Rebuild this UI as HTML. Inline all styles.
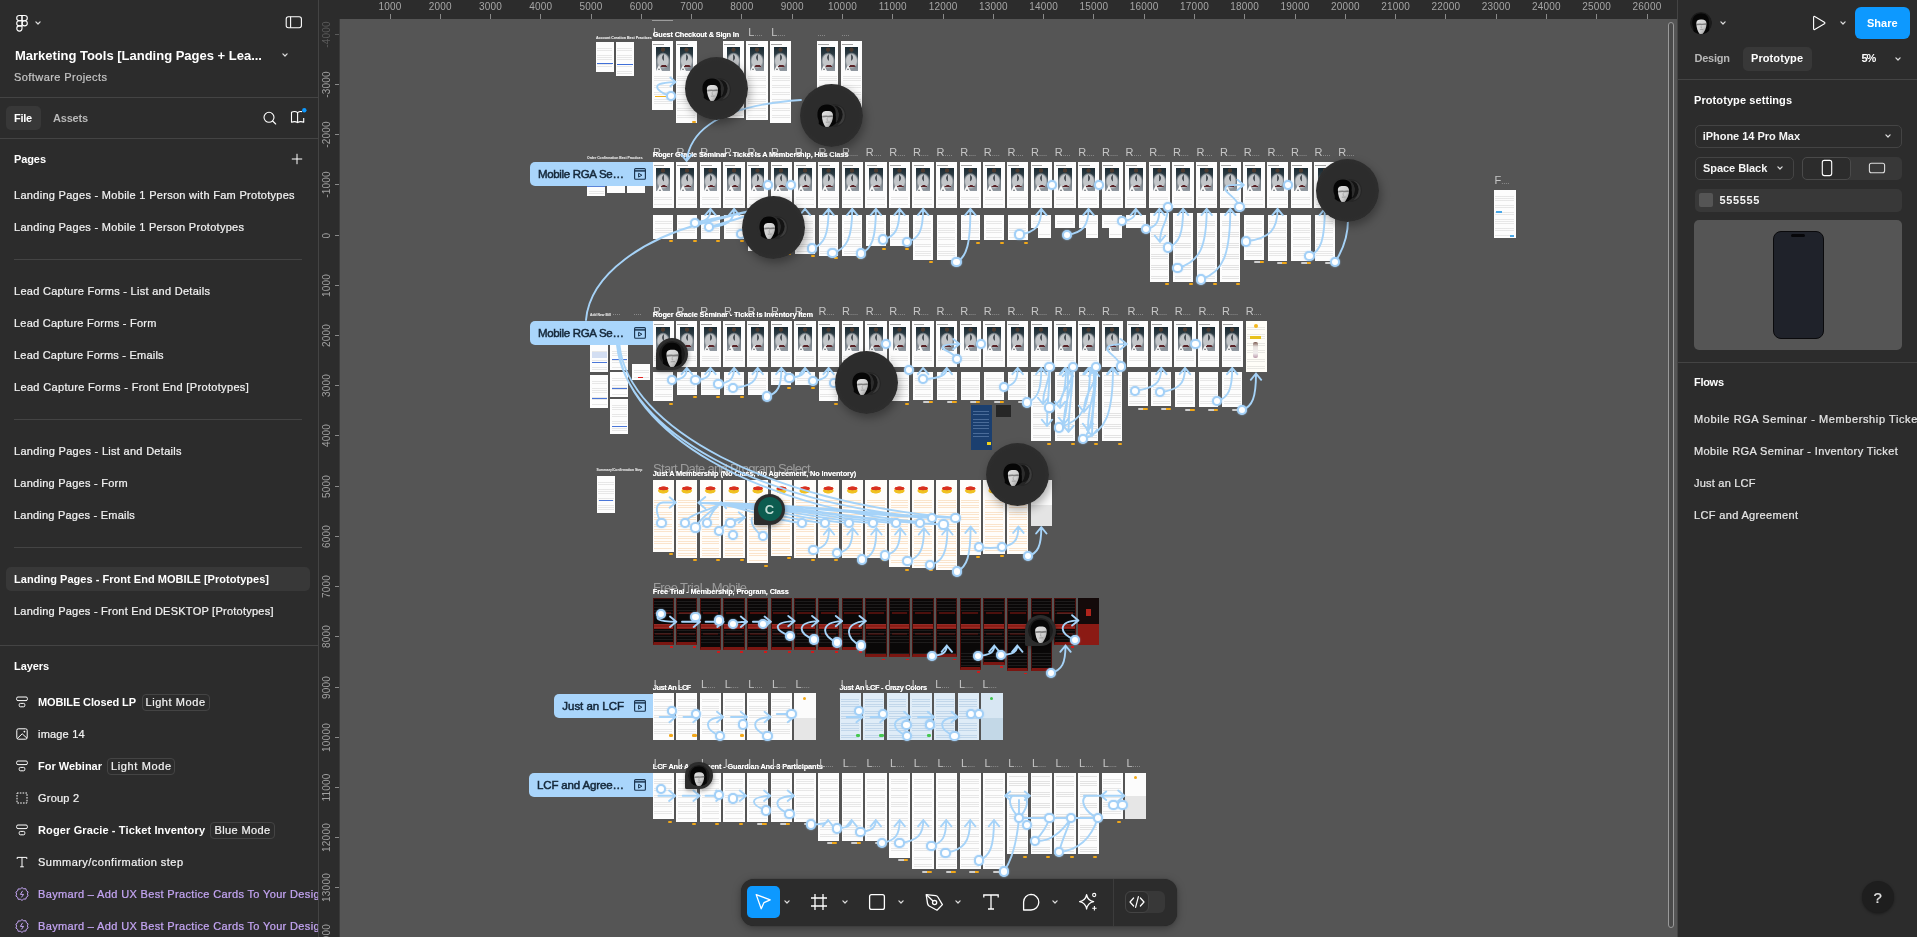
<!DOCTYPE html>
<html><head><meta charset="utf-8"><title>Figma</title>
<style>
html,body{margin:0;padding:0;background:#555;}
body{width:1917px;height:937px;overflow:hidden;position:relative;font-family:"Liberation Sans",sans-serif;}
.a{position:absolute;}
.t{position:absolute;white-space:nowrap;}
.f{position:absolute;background:#fff;}
svg{overflow:visible}
</style></head><body>
<svg width="0" height="0" style="position:absolute"><defs><linearGradient id="fg" x1="0" y1="0" x2="1" y2="1"><stop offset="0" stop-color="#e2e2e2"/><stop offset=".6" stop-color="#cdcdcd"/><stop offset="1" stop-color="#8c8c8c"/></linearGradient></defs></svg>

<div id="root" style="position:absolute;left:0;top:0;width:1917px;height:937px;will-change:transform;overflow:hidden">
<div class="a" style="left:0;top:0;width:1677px;height:937px;background:#555;overflow:hidden">
<style>
.f{position:absolute;background:#fdfdfd;overflow:hidden}
.f::after{content:"";position:absolute;left:8%;right:8%;top:2px;bottom:2px;background:repeating-linear-gradient(180deg,rgba(120,120,120,.0) 0 1.6px,rgba(120,120,120,.16) 1.6px 2.3px)}
.rg::before{content:"";position:absolute;left:3.9px;top:6px;width:13.6px;height:23.5px;z-index:2;
 background:
 radial-gradient(ellipse 3.6px 1.1px at 56% 80%,#5a2428 0 85%,rgba(90,36,40,0) 100%),
 radial-gradient(ellipse 1.1px 3.6px at 52% 44%,#4d5359 0 70%,rgba(77,83,89,0) 100%),
 radial-gradient(circle 2.4px at 50% 11%,#4b3a30 0 75%,rgba(75,58,48,0) 100%),
 radial-gradient(ellipse 6.800px 8.400px at 50% 57%,#c3c6c9 0 72%,rgba(170,175,180,.55) 88%,rgba(150,155,160,0) 100%),
 linear-gradient(180deg,#1a2a32 0%,#2b3a42 28%,#737c83 66%,#9198a0 100%)}
.rg::after{top:31px}
.tri{position:absolute;left:4.2px;top:23.6px;width:0;height:0;border-left:3.3px solid transparent;border-right:3.3px solid transparent;border-bottom:6px solid #f6f6f6;z-index:3}
.tri::after{content:"";position:absolute;left:-1.2px;top:3.4px;border-left:1.2px solid transparent;border-right:1.2px solid transparent;border-bottom:2.400px solid #6a6f74}
.rg>b{position:absolute;left:1.4px;top:3.1px;width:10.5px;height:1px;background:rgba(50,50,50,.45);z-index:3}
.dn::after{background:repeating-linear-gradient(180deg,rgba(100,100,100,0) 0 1.5px,rgba(100,100,100,.17) 1.5px 2.2px) !important}
.or{position:absolute;background:#fffdfa;overflow:hidden}
.or::before{content:"";position:absolute;left:4.5px;top:5.5px;width:12.5px;height:8px;background:radial-gradient(ellipse 5.5px 2.2px at 50% 30%,#d9301e 0 80%,rgba(217,48,30,0) 100%),radial-gradient(ellipse 5.8px 3.2px at 48% 58%,#f0c020 0 80%,rgba(240,192,32,0) 100%)}
.or::after{content:"";position:absolute;left:8%;right:8%;top:16px;bottom:2px;background:repeating-linear-gradient(180deg,rgba(235,140,40,0) 0 1.6px,rgba(235,140,40,.22) 1.6px 2.4px)}
.bk{position:absolute;background:#0a0808;overflow:hidden}
.bk::before{content:"";position:absolute;left:0.8px;right:0.8px;top:25.5px;height:5px;background:#8e1c15;box-shadow:0 -13.5px 0 -1.9px #7a1712, 0 7.5px 0 -2px #5e120e}
.bk::after{content:"";position:absolute;left:0;right:0;top:0;bottom:0;border:0.7px solid #4a0e0b;border-bottom:3.2px solid #7a1611;background:repeating-linear-gradient(180deg,rgba(200,200,200,0) 0 2.2px,rgba(200,200,200,.10) 2.2px 2.9px)}
.lb{position:absolute;background:#dfecf7;overflow:hidden}
.lb::after{content:"";position:absolute;left:8%;right:8%;top:2px;bottom:2px;background:repeating-linear-gradient(180deg,rgba(90,140,190,0) 0 1.6px,rgba(90,140,190,.22) 1.6px 2.4px)}
.n{position:absolute;width:10.4px;height:10.4px;border-radius:50%;background:#fff;border:2px solid #a3d0f7;box-shadow:0 0 1.500px rgba(163,208,247,.9);box-sizing:border-box;z-index:6}
.l{position:absolute;font-size:11px;line-height:12px;color:#c6c6c6;white-space:nowrap}
.l i{font-style:normal;font-size:7.5px;letter-spacing:-.1px;color:#b0b0b0}
.ti{position:absolute;white-space:nowrap;color:#fff;font-weight:bold;font-size:7.4px;line-height:9px;text-shadow:0 0 0.6px rgba(255,255,255,.6)}
.gt{position:absolute;white-space:nowrap;color:#9c9c9c;line-height:16px}
.big{position:absolute;border-radius:50%;background:radial-gradient(circle at 50% 50%,#2c2c2c 0 60%,#313131 85%,#383838 100%);box-shadow:2px 4px 10px rgba(0,0,0,.32);z-index:8}
.pin{position:absolute;border-radius:50% 50% 50% 6%;background:#2c2c2c;box-shadow:1px 2px 4px rgba(0,0,0,.3);z-index:8}
.fl{position:absolute;background:#a9d5fb;border-radius:5px 0 0 5px;z-index:5;height:24.2px}
</style>
<div class="ti" style="left:596px;top:35.5px;font-size:3.6px;line-height:5px;opacity:.85">Account Creation Best Practices</div>
<div class="f" style="left:595.8px;top:41.7px;width:18.0px;height:30.0px;"></div>
<div class="f" style="left:616.0px;top:41.7px;width:17.8px;height:34.1px;"></div>
<div class="a" style="left:597px;top:62.5px;width:15.5px;height:1.600px;background:#3f6fd8"></div>
<div class="a" style="left:617.3px;top:63.800px;width:15.5px;height:1.600px;background:#3f6fd8"></div>
<div class="f rg" style="left:652.1px;top:41.3px;width:21.4px;height:68.3px"><i class="tri"></i><b></b></div>
<div class="f rg" style="left:675.7px;top:41.3px;width:21.4px;height:82.2px"><i class="tri"></i><b></b></div>
<div class="f rg" style="left:722.9px;top:41.3px;width:21.4px;height:77.1px"><i class="tri"></i><b></b></div>
<div class="f rg" style="left:746.3px;top:41.3px;width:21.4px;height:78.6px"><i class="tri"></i><b></b></div>
<div class="f rg" style="left:770.0px;top:41.3px;width:21.4px;height:81.9px"><i class="tri"></i><b></b></div>
<div class="f rg" style="left:817.1px;top:41.3px;width:21.4px;height:78.7px"><i class="tri"></i><b></b></div>
<div class="f rg" style="left:841.0px;top:41.3px;width:21.4px;height:78.7px"><i class="tri"></i><b></b></div>
<div class="l" style="left:653.0px;top:26.0px">L</div>
<div class="l" style="left:748.3px;top:26.0px">L<i>....</i></div>
<div class="l" style="left:771.2px;top:26.0px">L<i>....</i></div>
<div class="l" style="left:817.5px;top:26.0px"><i>....</i></div>
<div class="l" style="left:841.5px;top:26.0px"><i>....</i></div>
<div class="ti" style="left:652.8px;top:30.0px;letter-spacing:-0.190px;font-size:7.4px;">Guest Checkout &amp; Sign In</div>
<div class="a" style="left:654.5px;top:95.600px;width:11.5px;height:1.800px;background:#f2b01a"></div>
<div class="a" style="left:691.5px;top:120.5px;width:4px;height:2px;border-radius:1px;background:#f2a818"></div>
<div class="a" style="left:652px;top:20px;width:20.500px;height:1px;background:#9c9c9c"></div>
<div class="f rg" style="left:652.5px;top:161.8px;width:21.4px;height:46.4px"><i class="tri"></i><b></b></div>
<div class="f rg" style="left:676.1px;top:161.8px;width:21.4px;height:46.4px"><i class="tri"></i><b></b></div>
<div class="f rg" style="left:699.8px;top:161.8px;width:21.4px;height:46.4px"><i class="tri"></i><b></b></div>
<div class="f rg" style="left:723.4px;top:161.8px;width:21.4px;height:46.4px"><i class="tri"></i><b></b></div>
<div class="f rg" style="left:747.0px;top:161.8px;width:21.4px;height:46.4px"><i class="tri"></i><b></b></div>
<div class="f rg" style="left:770.6px;top:161.8px;width:21.4px;height:46.4px"><i class="tri"></i><b></b></div>
<div class="f rg" style="left:794.3px;top:161.8px;width:21.4px;height:46.4px"><i class="tri"></i><b></b></div>
<div class="f rg" style="left:817.9px;top:161.8px;width:21.4px;height:46.4px"><i class="tri"></i><b></b></div>
<div class="f rg" style="left:841.5px;top:161.8px;width:21.4px;height:46.4px"><i class="tri"></i><b></b></div>
<div class="f rg" style="left:865.2px;top:161.8px;width:21.4px;height:46.4px"><i class="tri"></i><b></b></div>
<div class="f rg" style="left:888.8px;top:161.8px;width:21.4px;height:46.4px"><i class="tri"></i><b></b></div>
<div class="f rg" style="left:912.4px;top:161.8px;width:21.4px;height:46.4px"><i class="tri"></i><b></b></div>
<div class="f rg" style="left:936.1px;top:161.8px;width:21.4px;height:46.4px"><i class="tri"></i><b></b></div>
<div class="f rg" style="left:959.7px;top:161.8px;width:21.4px;height:46.4px"><i class="tri"></i><b></b></div>
<div class="f rg" style="left:983.3px;top:161.8px;width:21.4px;height:46.4px"><i class="tri"></i><b></b></div>
<div class="f rg" style="left:1007.0px;top:161.8px;width:21.4px;height:46.4px"><i class="tri"></i><b></b></div>
<div class="f rg" style="left:1030.6px;top:161.8px;width:21.4px;height:46.4px"><i class="tri"></i><b></b></div>
<div class="f rg" style="left:1054.2px;top:161.8px;width:21.4px;height:46.4px"><i class="tri"></i><b></b></div>
<div class="f rg" style="left:1077.8px;top:161.8px;width:21.4px;height:46.4px"><i class="tri"></i><b></b></div>
<div class="f rg" style="left:1101.5px;top:161.8px;width:21.4px;height:46.4px"><i class="tri"></i><b></b></div>
<div class="f rg" style="left:1125.1px;top:161.8px;width:21.4px;height:46.4px"><i class="tri"></i><b></b></div>
<div class="f rg" style="left:1148.7px;top:161.8px;width:21.4px;height:46.4px"><i class="tri"></i><b></b></div>
<div class="f rg" style="left:1172.4px;top:161.8px;width:21.4px;height:46.4px"><i class="tri"></i><b></b></div>
<div class="f rg" style="left:1196.0px;top:161.8px;width:21.4px;height:46.4px"><i class="tri"></i><b></b></div>
<div class="f rg" style="left:1219.6px;top:161.8px;width:21.4px;height:46.4px"><i class="tri"></i><b></b></div>
<div class="f rg" style="left:1243.2px;top:161.8px;width:21.4px;height:46.4px"><i class="tri"></i><b></b></div>
<div class="f rg" style="left:1266.9px;top:161.8px;width:21.4px;height:46.4px"><i class="tri"></i><b></b></div>
<div class="f rg" style="left:1290.5px;top:161.8px;width:21.4px;height:46.4px"><i class="tri"></i><b></b></div>
<div class="f rg" style="left:1314.1px;top:161.8px;width:21.4px;height:46.4px"><i class="tri"></i><b></b></div>
<div class="f rg" style="left:1337.8px;top:161.8px;width:21.4px;height:46.4px"><i class="tri"></i><b></b></div>
<div class="l" style="left:653.0px;top:146.0px">R<i>....</i></div>
<div class="l" style="left:676.6px;top:146.0px">R<i>....</i></div>
<div class="l" style="left:700.3px;top:146.0px">R<i>....</i></div>
<div class="l" style="left:723.9px;top:146.0px">R<i>....</i></div>
<div class="l" style="left:747.5px;top:146.0px">R<i>....</i></div>
<div class="l" style="left:771.1px;top:146.0px">R<i>....</i></div>
<div class="l" style="left:794.8px;top:146.0px">R<i>....</i></div>
<div class="l" style="left:818.4px;top:146.0px">R<i>....</i></div>
<div class="l" style="left:842.0px;top:146.0px">R<i>....</i></div>
<div class="l" style="left:865.7px;top:146.0px">R<i>....</i></div>
<div class="l" style="left:889.3px;top:146.0px">R<i>....</i></div>
<div class="l" style="left:912.9px;top:146.0px">R<i>....</i></div>
<div class="l" style="left:936.6px;top:146.0px">R<i>....</i></div>
<div class="l" style="left:960.2px;top:146.0px">R<i>....</i></div>
<div class="l" style="left:983.8px;top:146.0px">R<i>....</i></div>
<div class="l" style="left:1007.5px;top:146.0px">R<i>....</i></div>
<div class="l" style="left:1031.1px;top:146.0px">R<i>....</i></div>
<div class="l" style="left:1054.7px;top:146.0px">R<i>....</i></div>
<div class="l" style="left:1078.3px;top:146.0px">R<i>....</i></div>
<div class="l" style="left:1102.0px;top:146.0px">R<i>....</i></div>
<div class="l" style="left:1125.6px;top:146.0px">R<i>....</i></div>
<div class="l" style="left:1149.2px;top:146.0px">R<i>....</i></div>
<div class="l" style="left:1172.9px;top:146.0px">R<i>....</i></div>
<div class="l" style="left:1196.5px;top:146.0px">R<i>....</i></div>
<div class="l" style="left:1220.1px;top:146.0px">R<i>....</i></div>
<div class="l" style="left:1243.8px;top:146.0px">R<i>....</i></div>
<div class="l" style="left:1267.4px;top:146.0px">R<i>....</i></div>
<div class="l" style="left:1291.0px;top:146.0px">R<i>....</i></div>
<div class="l" style="left:1314.6px;top:146.0px">R<i>....</i></div>
<div class="l" style="left:1338.3px;top:146.0px">R<i>....</i></div>
<div class="ti" style="left:652.8px;top:149.5px;letter-spacing:-0.183px;font-size:7.4px;">Roger Gracie Seminar - Ticket Is A Membership, Has Class</div>
<div class="f" style="left:653.3px;top:214.8px;width:19.8px;height:23.8px;"></div>
<div class="a" style="left:669.0px;top:239.8px;width:4px;height:2px;border-radius:1px;background:#f2a818"></div>
<div class="f" style="left:676.9px;top:214.8px;width:19.8px;height:23.8px;"></div>
<div class="a" style="left:692.6px;top:239.8px;width:4px;height:2px;border-radius:1px;background:#f2a818"></div>
<div class="f" style="left:700.6px;top:214.8px;width:19.8px;height:23.8px;"></div>
<div class="a" style="left:716.3px;top:239.8px;width:4px;height:2px;border-radius:1px;background:#f2a818"></div>
<div class="f" style="left:724.2px;top:214.8px;width:19.8px;height:23.8px;"></div>
<div class="a" style="left:739.9px;top:239.8px;width:4px;height:2px;border-radius:1px;background:#f2a818"></div>
<div class="f" style="left:747.8px;top:214.8px;width:19.8px;height:36.6px;"></div>
<div class="a" style="left:763.5px;top:252.6px;width:4px;height:2px;border-radius:1px;background:#f2a818"></div>
<div class="f" style="left:771.4px;top:214.8px;width:19.8px;height:36.6px;"></div>
<div class="a" style="left:787.1px;top:252.6px;width:4px;height:2px;border-radius:1px;background:#f2a818"></div>
<div class="f" style="left:795.1px;top:214.8px;width:19.8px;height:39.2px;"></div>
<div class="a" style="left:810.8px;top:255.2px;width:4px;height:2px;border-radius:1px;background:#f2a818"></div>
<div class="f" style="left:818.7px;top:214.8px;width:19.8px;height:40.9px;"></div>
<div class="a" style="left:834.4px;top:256.9px;width:4px;height:2px;border-radius:1px;background:#f2a818"></div>
<div class="f" style="left:842.3px;top:214.8px;width:19.8px;height:40.9px;"></div>
<div class="a" style="left:858.0px;top:256.9px;width:4px;height:2px;border-radius:1px;background:#f2a818"></div>
<div class="f" style="left:866.0px;top:214.8px;width:19.8px;height:31.6px;"></div>
<div class="a" style="left:881.7px;top:247.6px;width:4px;height:2px;border-radius:1px;background:#f2a818"></div>
<div class="f" style="left:889.6px;top:214.8px;width:19.8px;height:31.6px;"></div>
<div class="a" style="left:905.3px;top:247.6px;width:4px;height:2px;border-radius:1px;background:#f2a818"></div>
<div class="f" style="left:913.2px;top:214.8px;width:19.8px;height:44.9px;"></div>
<div class="a" style="left:928.9px;top:260.9px;width:4px;height:2px;border-radius:1px;background:#f2a818"></div>
<div class="f" style="left:936.9px;top:214.8px;width:19.8px;height:44.9px;"></div>
<div class="a" style="left:952.6px;top:260.9px;width:4px;height:2px;border-radius:1px;background:#f2a818"></div>
<div class="f" style="left:960.5px;top:214.8px;width:19.8px;height:25.5px;"></div>
<div class="a" style="left:976.2px;top:241.5px;width:4px;height:2px;border-radius:1px;background:#f2a818"></div>
<div class="f" style="left:984.1px;top:214.8px;width:19.8px;height:25.5px;"></div>
<div class="a" style="left:999.8px;top:241.5px;width:4px;height:2px;border-radius:1px;background:#f2a818"></div>
<div class="f" style="left:1007.8px;top:214.8px;width:19.8px;height:25.5px;"></div>
<div class="a" style="left:1023.5px;top:241.5px;width:4px;height:2px;border-radius:1px;background:#f2a818"></div>
<div class="f" style="left:1125.9px;top:214.8px;width:19.8px;height:12.8px;"></div>
<div class="a" style="left:1141.6px;top:228.8px;width:4px;height:2px;border-radius:1px;background:#f2a818"></div>
<div class="f dn" style="left:1149.5px;top:213.0px;width:19.8px;height:68.5px;"></div>
<div class="a" style="left:1165.2px;top:282.7px;width:4px;height:2px;border-radius:1px;background:#f2a818"></div>
<div class="f dn" style="left:1173.2px;top:213.0px;width:19.8px;height:68.5px;"></div>
<div class="a" style="left:1188.9px;top:282.7px;width:4px;height:2px;border-radius:1px;background:#f2a818"></div>
<div class="f dn" style="left:1196.8px;top:213.0px;width:19.8px;height:68.5px;"></div>
<div class="a" style="left:1212.5px;top:282.7px;width:4px;height:2px;border-radius:1px;background:#f2a818"></div>
<div class="f dn" style="left:1220.4px;top:213.0px;width:19.8px;height:68.5px;"></div>
<div class="a" style="left:1236.1px;top:282.7px;width:4px;height:2px;border-radius:1px;background:#f2a818"></div>
<div class="f" style="left:1244.0px;top:214.8px;width:19.8px;height:44.9px;"></div>
<div class="a" style="left:1253.8px;top:260.9px;width:10px;height:2px;border-radius:1px;background:linear-gradient(90deg,#cfcfcf 0 55%,#f2a818 55% 100%)"></div>
<div class="f" style="left:1267.7px;top:214.8px;width:19.8px;height:45.9px;"></div>
<div class="a" style="left:1277.4px;top:261.9px;width:10px;height:2px;border-radius:1px;background:linear-gradient(90deg,#cfcfcf 0 55%,#f2a818 55% 100%)"></div>
<div class="f" style="left:1291.3px;top:214.8px;width:19.8px;height:45.9px;"></div>
<div class="a" style="left:1301.0px;top:261.9px;width:10px;height:2px;border-radius:1px;background:linear-gradient(90deg,#cfcfcf 0 55%,#f2a818 55% 100%)"></div>
<div class="f" style="left:1314.9px;top:214.8px;width:19.8px;height:45.9px;"></div>
<div class="a" style="left:1324.6px;top:261.9px;width:10px;height:2px;border-radius:1px;background:linear-gradient(90deg,#cfcfcf 0 55%,#f2a818 55% 100%)"></div>
<div class="f" style="left:1031.4px;top:214.8px;width:19.8px;height:13.7px;"></div>
<div class="f" style="left:1038.4px;top:228.2px;width:12.8px;height:10.1px;"></div>
<div class="f" style="left:1055.0px;top:214.8px;width:19.8px;height:13.7px;"></div>
<div class="f" style="left:1078.6px;top:214.8px;width:19.8px;height:13.7px;"></div>
<div class="f" style="left:1085.6px;top:228.2px;width:12.8px;height:10.1px;"></div>
<div class="f" style="left:1102.3px;top:214.8px;width:19.8px;height:13.7px;"></div>
<div class="f" style="left:1109.3px;top:228.2px;width:12.8px;height:10.1px;"></div>
<div class="ti" style="left:587px;top:155.800px;font-size:3.4px;line-height:5px;opacity:.8">Order Confirmation Best Practices</div>
<div class="f" style="left:587.2px;top:185.0px;width:17.9px;height:10.5px;"></div>
<div class="f" style="left:606.8px;top:185.0px;width:18.0px;height:8.4px;"></div>
<div class="f" style="left:626.8px;top:185.0px;width:18.4px;height:7.6px;"></div>
<div class="a" style="left:587.2px;top:185.500px;width:17.900px;height:1.2px;background:#5b84d8"></div>
<div class="f rg" style="left:652.5px;top:321.0px;width:21.4px;height:46.4px"><i class="tri"></i><b></b></div>
<div class="f rg" style="left:676.1px;top:321.0px;width:21.4px;height:46.4px"><i class="tri"></i><b></b></div>
<div class="f rg" style="left:699.8px;top:321.0px;width:21.4px;height:46.4px"><i class="tri"></i><b></b></div>
<div class="f rg" style="left:723.4px;top:321.0px;width:21.4px;height:46.4px"><i class="tri"></i><b></b></div>
<div class="f rg" style="left:747.0px;top:321.0px;width:21.4px;height:46.4px"><i class="tri"></i><b></b></div>
<div class="f rg" style="left:770.6px;top:321.0px;width:21.4px;height:46.4px"><i class="tri"></i><b></b></div>
<div class="f rg" style="left:794.3px;top:321.0px;width:21.4px;height:46.4px"><i class="tri"></i><b></b></div>
<div class="f rg" style="left:817.9px;top:321.0px;width:21.4px;height:46.4px"><i class="tri"></i><b></b></div>
<div class="f rg" style="left:841.5px;top:321.0px;width:21.4px;height:46.4px"><i class="tri"></i><b></b></div>
<div class="f rg" style="left:865.2px;top:321.0px;width:21.4px;height:46.4px"><i class="tri"></i><b></b></div>
<div class="f rg" style="left:888.8px;top:321.0px;width:21.4px;height:46.4px"><i class="tri"></i><b></b></div>
<div class="f rg" style="left:912.4px;top:321.0px;width:21.4px;height:46.4px"><i class="tri"></i><b></b></div>
<div class="f rg" style="left:936.1px;top:321.0px;width:21.4px;height:46.4px"><i class="tri"></i><b></b></div>
<div class="f rg" style="left:959.7px;top:321.0px;width:21.4px;height:46.4px"><i class="tri"></i><b></b></div>
<div class="f rg" style="left:983.3px;top:321.0px;width:21.4px;height:46.4px"><i class="tri"></i><b></b></div>
<div class="f rg" style="left:1007.0px;top:321.0px;width:21.4px;height:46.4px"><i class="tri"></i><b></b></div>
<div class="f rg" style="left:1030.6px;top:321.0px;width:21.4px;height:46.4px"><i class="tri"></i><b></b></div>
<div class="f rg" style="left:1054.2px;top:321.0px;width:21.4px;height:46.4px"><i class="tri"></i><b></b></div>
<div class="f rg" style="left:1077.8px;top:321.0px;width:21.4px;height:46.4px"><i class="tri"></i><b></b></div>
<div class="f rg" style="left:1101.5px;top:321.0px;width:21.4px;height:46.4px"><i class="tri"></i><b></b></div>
<div class="f rg" style="left:1127.0px;top:321.0px;width:21.4px;height:46.4px"><i class="tri"></i><b></b></div>
<div class="f rg" style="left:1150.6px;top:321.0px;width:21.4px;height:46.4px"><i class="tri"></i><b></b></div>
<div class="f rg" style="left:1174.3px;top:321.0px;width:21.4px;height:46.4px"><i class="tri"></i><b></b></div>
<div class="f rg" style="left:1197.9px;top:321.0px;width:21.4px;height:46.4px"><i class="tri"></i><b></b></div>
<div class="f rg" style="left:1221.5px;top:321.0px;width:21.4px;height:46.4px"><i class="tri"></i><b></b></div>
<div class="f" style="left:1245.5px;top:321.0px;width:21.4px;height:51.0px;background:#fffef8"></div>
<div class="a" style="left:1254px;top:324px;width:4px;height:4px;border-radius:2px;background:#f5b81c"></div>
<div class="a" style="left:1250px;top:335.5px;width:11px;height:3.5px;background:#e8c21c"></div>
<div class="a" style="left:1253px;top:342px;width:5px;height:16px;border-radius:2px;background:linear-gradient(180deg,#7a5a50,#e9e4e0 30%,#f1eeee 70%,#b9a)"></div>
<div class="l" style="left:653.0px;top:304.5px">R<i>....</i></div>
<div class="l" style="left:676.6px;top:304.5px">R<i>....</i></div>
<div class="l" style="left:700.3px;top:304.5px">R<i>....</i></div>
<div class="l" style="left:723.9px;top:304.5px">R<i>....</i></div>
<div class="l" style="left:747.5px;top:304.5px">R<i>....</i></div>
<div class="l" style="left:771.1px;top:304.5px">R<i>....</i></div>
<div class="l" style="left:794.8px;top:304.5px">R<i>....</i></div>
<div class="l" style="left:818.4px;top:304.5px">R<i>....</i></div>
<div class="l" style="left:842.0px;top:304.5px">R<i>....</i></div>
<div class="l" style="left:865.7px;top:304.5px">R<i>....</i></div>
<div class="l" style="left:889.3px;top:304.5px">R<i>....</i></div>
<div class="l" style="left:912.9px;top:304.5px">R<i>....</i></div>
<div class="l" style="left:936.6px;top:304.5px">R<i>....</i></div>
<div class="l" style="left:960.2px;top:304.5px">R<i>....</i></div>
<div class="l" style="left:983.8px;top:304.5px">R<i>....</i></div>
<div class="l" style="left:1007.5px;top:304.5px">R<i>....</i></div>
<div class="l" style="left:1031.1px;top:304.5px">R<i>....</i></div>
<div class="l" style="left:1054.7px;top:304.5px">R<i>....</i></div>
<div class="l" style="left:1078.3px;top:304.5px">R<i>....</i></div>
<div class="l" style="left:1102.0px;top:304.5px">R<i>....</i></div>
<div class="l" style="left:1127.5px;top:304.5px">R<i>....</i></div>
<div class="l" style="left:1151.1px;top:304.5px">R<i>....</i></div>
<div class="l" style="left:1174.8px;top:304.5px">R<i>....</i></div>
<div class="l" style="left:1198.4px;top:304.5px">R<i>....</i></div>
<div class="l" style="left:1222.0px;top:304.5px">R<i>....</i></div>
<div class="l" style="left:1245.7px;top:304.5px">R<i>....</i></div>
<div class="ti" style="left:652.8px;top:310.0px;letter-spacing:-0.127px;font-size:7.4px;">Roger Gracie Seminar - Ticket Is Inventory Item</div>
<div class="f" style="left:653.3px;top:372.3px;width:19.8px;height:29.1px;"></div>
<div class="a" style="left:669.0px;top:402.6px;width:4px;height:2px;border-radius:1px;background:#f2a818"></div>
<div class="f" style="left:676.9px;top:372.3px;width:19.8px;height:22.5px;"></div>
<div class="a" style="left:692.6px;top:396.0px;width:4px;height:2px;border-radius:1px;background:#f2a818"></div>
<div class="f" style="left:700.6px;top:372.3px;width:19.8px;height:22.5px;"></div>
<div class="a" style="left:716.3px;top:396.0px;width:4px;height:2px;border-radius:1px;background:#f2a818"></div>
<div class="f" style="left:724.2px;top:372.3px;width:19.8px;height:22.5px;"></div>
<div class="a" style="left:739.9px;top:396.0px;width:4px;height:2px;border-radius:1px;background:#f2a818"></div>
<div class="f" style="left:747.8px;top:372.3px;width:19.8px;height:22.5px;"></div>
<div class="a" style="left:763.5px;top:396.0px;width:4px;height:2px;border-radius:1px;background:#f2a818"></div>
<div class="f" style="left:771.4px;top:372.3px;width:19.8px;height:13.1px;"></div>
<div class="a" style="left:787.1px;top:386.6px;width:4px;height:2px;border-radius:1px;background:#f2a818"></div>
<div class="f" style="left:795.1px;top:372.3px;width:19.8px;height:13.1px;"></div>
<div class="a" style="left:810.8px;top:386.6px;width:4px;height:2px;border-radius:1px;background:#f2a818"></div>
<div class="f" style="left:818.7px;top:372.3px;width:19.8px;height:29.1px;"></div>
<div class="a" style="left:834.4px;top:402.6px;width:4px;height:2px;border-radius:1px;background:#f2a818"></div>
<div class="f" style="left:842.3px;top:372.3px;width:19.8px;height:29.1px;"></div>
<div class="a" style="left:858.0px;top:402.6px;width:4px;height:2px;border-radius:1px;background:#f2a818"></div>
<div class="f" style="left:866.0px;top:372.3px;width:19.8px;height:29.1px;"></div>
<div class="a" style="left:881.7px;top:402.6px;width:4px;height:2px;border-radius:1px;background:#f2a818"></div>
<div class="f" style="left:889.6px;top:372.3px;width:19.8px;height:29.1px;"></div>
<div class="a" style="left:905.3px;top:402.6px;width:4px;height:2px;border-radius:1px;background:#f2a818"></div>
<div class="f" style="left:913.2px;top:372.3px;width:19.8px;height:27.9px;"></div>
<div class="a" style="left:922.9px;top:401.4px;width:10px;height:2px;border-radius:1px;background:linear-gradient(90deg,#cfcfcf 0 55%,#f2a818 55% 100%)"></div>
<div class="f" style="left:936.9px;top:372.3px;width:19.8px;height:27.9px;"></div>
<div class="a" style="left:946.6px;top:401.4px;width:10px;height:2px;border-radius:1px;background:linear-gradient(90deg,#cfcfcf 0 55%,#f2a818 55% 100%)"></div>
<div class="f" style="left:960.5px;top:372.3px;width:19.8px;height:27.9px;"></div>
<div class="a" style="left:970.2px;top:401.4px;width:10px;height:2px;border-radius:1px;background:linear-gradient(90deg,#cfcfcf 0 55%,#f2a818 55% 100%)"></div>
<div class="f" style="left:984.1px;top:372.3px;width:19.8px;height:27.9px;"></div>
<div class="a" style="left:993.8px;top:401.4px;width:10px;height:2px;border-radius:1px;background:linear-gradient(90deg,#cfcfcf 0 55%,#f2a818 55% 100%)"></div>
<div class="f" style="left:1007.8px;top:372.3px;width:19.8px;height:27.9px;"></div>
<div class="a" style="left:1017.5px;top:401.4px;width:10px;height:2px;border-radius:1px;background:linear-gradient(90deg,#cfcfcf 0 55%,#f2a818 55% 100%)"></div>
<div class="f dn" style="left:1031.4px;top:372.3px;width:19.8px;height:69.2px;"></div>
<div class="a" style="left:1047.1px;top:442.7px;width:4px;height:2px;border-radius:1px;background:#f2a818"></div>
<div class="f dn" style="left:1055.0px;top:372.3px;width:19.8px;height:69.2px;"></div>
<div class="a" style="left:1070.7px;top:442.7px;width:4px;height:2px;border-radius:1px;background:#f2a818"></div>
<div class="f dn" style="left:1078.6px;top:372.3px;width:19.8px;height:69.2px;"></div>
<div class="a" style="left:1094.3px;top:442.7px;width:4px;height:2px;border-radius:1px;background:#f2a818"></div>
<div class="f dn" style="left:1102.3px;top:372.3px;width:19.8px;height:69.2px;"></div>
<div class="a" style="left:1118.0px;top:442.7px;width:4px;height:2px;border-radius:1px;background:#f2a818"></div>
<div class="f" style="left:1127.8px;top:372.3px;width:19.8px;height:34.1px;"></div>
<div class="a" style="left:1137.5px;top:407.6px;width:10px;height:2px;border-radius:1px;background:linear-gradient(90deg,#cfcfcf 0 55%,#f2a818 55% 100%)"></div>
<div class="f" style="left:1151.4px;top:372.3px;width:19.8px;height:34.1px;"></div>
<div class="a" style="left:1161.1px;top:407.6px;width:10px;height:2px;border-radius:1px;background:linear-gradient(90deg,#cfcfcf 0 55%,#f2a818 55% 100%)"></div>
<div class="f" style="left:1175.1px;top:372.3px;width:19.8px;height:35.2px;"></div>
<div class="a" style="left:1184.8px;top:408.7px;width:10px;height:2px;border-radius:1px;background:linear-gradient(90deg,#cfcfcf 0 55%,#f2a818 55% 100%)"></div>
<div class="f" style="left:1198.7px;top:372.3px;width:19.8px;height:35.2px;"></div>
<div class="a" style="left:1208.4px;top:408.7px;width:10px;height:2px;border-radius:1px;background:linear-gradient(90deg,#cfcfcf 0 55%,#f2a818 55% 100%)"></div>
<div class="f" style="left:1222.3px;top:372.3px;width:19.8px;height:35.2px;"></div>
<div class="a" style="left:1232.0px;top:408.7px;width:10px;height:2px;border-radius:1px;background:linear-gradient(90deg,#cfcfcf 0 55%,#f2a818 55% 100%)"></div>
<div class="a" style="left:970.9px;top:404.7px;width:21.0px;height:45.5px;background:#1b3f6f"></div>
<div class="a" style="left:973px;top:409px;width:16px;height:30px;background:repeating-linear-gradient(180deg,rgba(160,190,230,0) 0 2px,rgba(160,190,230,.35) 2px 2.800px)"></div>
<div class="a" style="left:987px;top:442px;width:3.5px;height:2.500px;background:#f0d21c"></div>
<div class="a" style="left:995.6px;top:404.7px;width:15.4px;height:12.5px;background:#262626"></div>
<div class="ti" style="left:590px;top:312.500px;font-size:3.4px;line-height:5px;opacity:.8">Add New Bill</div>
<div class="l" style="left:612.5px;top:304.5px"><i>....</i></div>
<div class="l" style="left:633.5px;top:304.5px"><i>....</i></div>
<div class="f" style="left:590.3px;top:345.0px;width:18.0px;height:27.3px;"></div>
<div class="f" style="left:590.3px;top:374.7px;width:18.0px;height:33.8px;"></div>
<div class="f" style="left:610.4px;top:345.0px;width:18.1px;height:24.5px;"></div>
<div class="f" style="left:610.4px;top:371.7px;width:18.1px;height:25.0px;"></div>
<div class="f" style="left:610.4px;top:399.0px;width:18.1px;height:34.7px;"></div>
<div class="f" style="left:632.2px;top:363.8px;width:18.2px;height:16.0px;"></div>
<div class="a" style="left:592px;top:352px;width:14.5px;height:6px;background:#d3def2"></div>
<div class="a" style="left:592.0px;top:361.5px;width:14.5px;height:1.500px;background:#4a76d8"></div>
<div class="a" style="left:592.0px;top:397.5px;width:14.5px;height:1.500px;background:#4a76d8"></div>
<div class="a" style="left:612.0px;top:358.5px;width:14.5px;height:1.500px;background:#4a76d8"></div>
<div class="a" style="left:612.0px;top:387.5px;width:14.5px;height:1.500px;background:#4a76d8"></div>
<div class="a" style="left:612.0px;top:425.5px;width:14.5px;height:1.500px;background:#4a76d8"></div>
<div class="a" style="left:638px;top:376.500px;width:5px;height:1.800px;background:#e02020"></div>
<div class="gt" style="left:653.0px;top:460.5px;letter-spacing:-0.691px;font-size:13px;">Start Date and Program Select</div>
<div class="ti" style="left:652.8px;top:468.5px;letter-spacing:-0.116px;font-size:7.4px;">Just A Membership (No Class, No Agreement, No Inventory)</div>
<div class="or" style="left:652.5px;top:480.0px;width:21.4px;height:72.0px;"></div>
<div class="a" style="left:669.0px;top:553.2px;width:4px;height:2px;border-radius:1px;background:#f2a818"></div>
<div class="or" style="left:676.1px;top:480.0px;width:21.4px;height:77.7px;"></div>
<div class="a" style="left:692.6px;top:558.9px;width:4px;height:2px;border-radius:1px;background:#f2a818"></div>
<div class="or" style="left:699.8px;top:480.0px;width:21.4px;height:77.7px;"></div>
<div class="a" style="left:716.3px;top:558.9px;width:4px;height:2px;border-radius:1px;background:#f2a818"></div>
<div class="or" style="left:723.4px;top:480.0px;width:21.4px;height:77.7px;"></div>
<div class="a" style="left:739.9px;top:558.9px;width:4px;height:2px;border-radius:1px;background:#f2a818"></div>
<div class="or" style="left:747.0px;top:480.0px;width:21.4px;height:83.4px;"></div>
<div class="a" style="left:763.5px;top:564.6px;width:4px;height:2px;border-radius:1px;background:#f2a818"></div>
<div class="or" style="left:770.6px;top:480.0px;width:21.4px;height:75.5px;"></div>
<div class="a" style="left:787.1px;top:556.7px;width:4px;height:2px;border-radius:1px;background:#f2a818"></div>
<div class="or" style="left:794.3px;top:480.0px;width:21.4px;height:77.7px;"></div>
<div class="a" style="left:810.8px;top:558.9px;width:4px;height:2px;border-radius:1px;background:#f2a818"></div>
<div class="or" style="left:817.9px;top:480.0px;width:21.4px;height:77.7px;"></div>
<div class="a" style="left:834.4px;top:558.9px;width:4px;height:2px;border-radius:1px;background:#f2a818"></div>
<div class="or" style="left:841.5px;top:480.0px;width:21.4px;height:77.7px;"></div>
<div class="a" style="left:858.0px;top:558.9px;width:4px;height:2px;border-radius:1px;background:#f2a818"></div>
<div class="or" style="left:865.2px;top:480.0px;width:21.4px;height:77.7px;"></div>
<div class="a" style="left:881.7px;top:558.9px;width:4px;height:2px;border-radius:1px;background:#f2a818"></div>
<div class="or" style="left:888.8px;top:480.0px;width:21.4px;height:87.3px;"></div>
<div class="a" style="left:905.3px;top:568.5px;width:4px;height:2px;border-radius:1px;background:#f2a818"></div>
<div class="or" style="left:912.4px;top:480.0px;width:21.4px;height:88.0px;"></div>
<div class="a" style="left:928.9px;top:569.2px;width:4px;height:2px;border-radius:1px;background:#f2a818"></div>
<div class="or" style="left:936.1px;top:480.0px;width:21.4px;height:89.6px;"></div>
<div class="a" style="left:952.6px;top:570.8px;width:4px;height:2px;border-radius:1px;background:#f2a818"></div>
<div class="or" style="left:959.7px;top:480.0px;width:21.4px;height:75.0px;"></div>
<div class="a" style="left:976.2px;top:556.2px;width:4px;height:2px;border-radius:1px;background:#f2a818"></div>
<div class="or" style="left:983.3px;top:480.0px;width:21.4px;height:74.0px;"></div>
<div class="a" style="left:999.8px;top:555.2px;width:4px;height:2px;border-radius:1px;background:#f2a818"></div>
<div class="or" style="left:1007.0px;top:480.0px;width:21.4px;height:74.0px;"></div>
<div class="a" style="left:1023.5px;top:555.2px;width:4px;height:2px;border-radius:1px;background:#f2a818"></div>
<div class="a" style="left:1030.6px;top:480.0px;width:21.4px;height:46.0px;background:linear-gradient(180deg,#fbfbfb 0 55%,#e4e4e4 55% 100%)"></div>
<div class="ti" style="left:596.500px;top:468px;font-size:3.4px;line-height:5px;opacity:.8">Summary/Confirmation Step</div>
<div class="f" style="left:596.6px;top:475.8px;width:18.4px;height:37.4px;"></div>
<div class="a" style="left:598.5px;top:499.500px;width:14.5px;height:1.600px;background:#4a76d8"></div>
<div class="gt" style="left:653.0px;top:579.5px;letter-spacing:-0.598px;font-size:13px;">Free Trial - Mobile</div>
<div class="ti" style="left:652.8px;top:587.0px;letter-spacing:-0.139px;font-size:7.4px;">Free Trial - Membership, Program, Class</div>
<div class="bk" style="left:652.5px;top:598.3px;width:21.4px;height:46.7px;"></div>
<div class="a" style="left:669.5px;top:646.0px;width:3px;height:1.600px;background:#d01c1c"></div>
<div class="bk" style="left:676.1px;top:598.3px;width:21.4px;height:46.7px;"></div>
<div class="a" style="left:693.1px;top:646.0px;width:3px;height:1.600px;background:#d01c1c"></div>
<div class="bk" style="left:699.8px;top:598.3px;width:21.4px;height:51.7px;"></div>
<div class="a" style="left:716.8px;top:651.0px;width:3px;height:1.600px;background:#d01c1c"></div>
<div class="bk" style="left:723.4px;top:598.3px;width:21.4px;height:51.7px;"></div>
<div class="a" style="left:740.4px;top:651.0px;width:3px;height:1.600px;background:#d01c1c"></div>
<div class="bk" style="left:747.0px;top:598.3px;width:21.4px;height:51.7px;"></div>
<div class="a" style="left:764.0px;top:651.0px;width:3px;height:1.600px;background:#d01c1c"></div>
<div class="bk" style="left:770.6px;top:598.3px;width:21.4px;height:51.7px;"></div>
<div class="a" style="left:787.6px;top:651.0px;width:3px;height:1.600px;background:#d01c1c"></div>
<div class="bk" style="left:794.3px;top:598.3px;width:21.4px;height:51.7px;"></div>
<div class="a" style="left:811.3px;top:651.0px;width:3px;height:1.600px;background:#d01c1c"></div>
<div class="bk" style="left:817.9px;top:598.3px;width:21.4px;height:51.7px;"></div>
<div class="a" style="left:834.9px;top:651.0px;width:3px;height:1.600px;background:#d01c1c"></div>
<div class="bk" style="left:841.5px;top:598.3px;width:21.4px;height:51.7px;"></div>
<div class="a" style="left:858.5px;top:651.0px;width:3px;height:1.600px;background:#d01c1c"></div>
<div class="bk" style="left:865.2px;top:598.3px;width:21.4px;height:59.2px;"></div>
<div class="a" style="left:882.2px;top:658.5px;width:3px;height:1.600px;background:#d01c1c"></div>
<div class="bk" style="left:888.8px;top:598.3px;width:21.4px;height:59.2px;"></div>
<div class="a" style="left:905.8px;top:658.5px;width:3px;height:1.600px;background:#d01c1c"></div>
<div class="bk" style="left:912.4px;top:598.3px;width:21.4px;height:59.2px;"></div>
<div class="a" style="left:929.4px;top:658.5px;width:3px;height:1.600px;background:#d01c1c"></div>
<div class="bk" style="left:936.1px;top:598.3px;width:21.4px;height:59.2px;"></div>
<div class="a" style="left:953.1px;top:658.5px;width:3px;height:1.600px;background:#d01c1c"></div>
<div class="bk" style="left:959.7px;top:598.3px;width:21.4px;height:72.1px;"></div>
<div class="a" style="left:976.7px;top:671.4px;width:3px;height:1.600px;background:#d01c1c"></div>
<div class="bk" style="left:983.3px;top:598.3px;width:21.4px;height:67.1px;"></div>
<div class="a" style="left:1000.3px;top:666.4px;width:3px;height:1.600px;background:#d01c1c"></div>
<div class="bk" style="left:1007.0px;top:598.3px;width:21.4px;height:73.2px;"></div>
<div class="a" style="left:1024.0px;top:672.5px;width:3px;height:1.600px;background:#d01c1c"></div>
<div class="bk" style="left:1030.6px;top:598.3px;width:21.4px;height:72.7px;"></div>
<div class="a" style="left:1047.6px;top:672.0px;width:3px;height:1.600px;background:#d01c1c"></div>
<div class="bk" style="left:1054.2px;top:598.3px;width:21.4px;height:46.7px;"></div>
<div class="a" style="left:1071.2px;top:646.0px;width:3px;height:1.600px;background:#d01c1c"></div>
<div class="a" style="left:1077.8px;top:598.3px;width:21.4px;height:46.7px;background:linear-gradient(180deg,#140a0a 0 56%,#8b1a14 56% 100%)"></div>
<div class="a" style="left:1085.8px;top:609px;width:5px;height:7px;background:#b0241c"></div>
<div class="ti" style="left:652.8px;top:682.5px;letter-spacing:-0.466px;font-size:7.4px;">Just An LCF</div>
<div class="l" style="left:653.8px;top:678.0px">L<i>....</i></div>
<div class="l" style="left:677.4px;top:678.0px">L<i>....</i></div>
<div class="l" style="left:701.1px;top:678.0px">L<i>....</i></div>
<div class="l" style="left:724.7px;top:678.0px">L<i>....</i></div>
<div class="l" style="left:748.3px;top:678.0px">L<i>....</i></div>
<div class="l" style="left:771.9px;top:678.0px">L<i>....</i></div>
<div class="l" style="left:795.6px;top:678.0px">L<i>....</i></div>
<div class="f" style="left:652.5px;top:693.2px;width:21.4px;height:46.4px;"></div>
<div class="a" style="left:668.8px;top:734.4px;width:4.6px;height:2.6px;border-radius:1.3px;background:#f5a818;z-index:2"></div>
<div class="f" style="left:676.1px;top:693.2px;width:21.4px;height:46.4px;"></div>
<div class="a" style="left:692.4px;top:734.4px;width:4.6px;height:2.6px;border-radius:1.3px;background:#f5a818;z-index:2"></div>
<div class="f" style="left:699.8px;top:693.2px;width:21.4px;height:46.4px;"></div>
<div class="f" style="left:723.4px;top:693.2px;width:21.4px;height:46.4px;"></div>
<div class="a" style="left:739.7px;top:734.4px;width:4.6px;height:2.6px;border-radius:1.3px;background:#f5a818;z-index:2"></div>
<div class="f" style="left:747.0px;top:693.2px;width:21.4px;height:46.4px;"></div>
<div class="f" style="left:770.6px;top:693.2px;width:21.4px;height:46.4px;"></div>
<div class="a" style="left:794.3px;top:693.4px;width:21.4px;height:46.5px;background:linear-gradient(180deg,#fcfcfc 0 54%,#e6e6e6 54% 100%)"></div>
<div class="a" style="left:803.3px;top:696.500px;width:3px;height:3px;border-radius:2px;background:#f2a818"></div>
<div class="ti" style="left:839.5px;top:682.5px;letter-spacing:-0.312px;font-size:7.4px;">Just An LCF - Crazy Colors</div>
<div class="l" style="left:840.8px;top:678.0px">L<i>....</i></div>
<div class="l" style="left:864.4px;top:678.0px">L<i>....</i></div>
<div class="l" style="left:888.1px;top:678.0px">L<i>....</i></div>
<div class="l" style="left:911.7px;top:678.0px">L<i>....</i></div>
<div class="l" style="left:935.3px;top:678.0px">L<i>....</i></div>
<div class="l" style="left:958.9px;top:678.0px">L<i>....</i></div>
<div class="l" style="left:982.6px;top:678.0px">L<i>....</i></div>
<div class="lb" style="left:839.5px;top:693.2px;width:21.4px;height:46.4px;"></div>
<div class="a" style="left:855.8px;top:734.4px;width:4.6px;height:2.6px;border-radius:1.3px;background:#46c850;z-index:2"></div>
<div class="lb" style="left:863.1px;top:693.2px;width:21.4px;height:46.4px;"></div>
<div class="a" style="left:879.4px;top:734.4px;width:4.6px;height:2.6px;border-radius:1.3px;background:#46c850;z-index:2"></div>
<div class="lb" style="left:886.8px;top:693.2px;width:21.4px;height:46.4px;"></div>
<div class="lb" style="left:910.4px;top:693.2px;width:21.4px;height:46.4px;"></div>
<div class="a" style="left:926.7px;top:734.4px;width:4.6px;height:2.6px;border-radius:1.3px;background:#46c850;z-index:2"></div>
<div class="lb" style="left:934.0px;top:693.2px;width:21.4px;height:46.4px;"></div>
<div class="lb" style="left:957.6px;top:693.2px;width:21.4px;height:46.4px;"></div>
<div class="a" style="left:981.3px;top:693.4px;width:21.4px;height:46.5px;background:linear-gradient(180deg,#d8e7f3 0 54%,#c3d8e7 54% 100%)"></div>
<div class="a" style="left:990.3px;top:696.500px;width:3px;height:3px;border-radius:2px;background:#3cc24a"></div>
<div class="ti" style="left:652.8px;top:761.5px;letter-spacing:-0.141px;font-size:7.4px;">LCF And Agreement - Guardian And 3 Participants</div>
<div class="l" style="left:653.8px;top:757.0px">L<i>....</i></div>
<div class="l" style="left:677.4px;top:757.0px">L<i>....</i></div>
<div class="l" style="left:701.1px;top:757.0px">L<i>....</i></div>
<div class="l" style="left:724.7px;top:757.0px">L<i>....</i></div>
<div class="l" style="left:748.3px;top:757.0px">L<i>....</i></div>
<div class="l" style="left:771.9px;top:757.0px">L<i>....</i></div>
<div class="l" style="left:795.6px;top:757.0px">L<i>....</i></div>
<div class="l" style="left:819.2px;top:757.0px">L<i>....</i></div>
<div class="l" style="left:842.8px;top:757.0px">L<i>....</i></div>
<div class="l" style="left:866.5px;top:757.0px">L<i>....</i></div>
<div class="l" style="left:890.1px;top:757.0px">L<i>....</i></div>
<div class="l" style="left:913.7px;top:757.0px">L<i>....</i></div>
<div class="l" style="left:937.4px;top:757.0px">L<i>....</i></div>
<div class="l" style="left:961.0px;top:757.0px">L<i>....</i></div>
<div class="l" style="left:984.6px;top:757.0px">L<i>....</i></div>
<div class="l" style="left:1008.2px;top:757.0px">L<i>....</i></div>
<div class="l" style="left:1031.9px;top:757.0px">L<i>....</i></div>
<div class="l" style="left:1055.5px;top:757.0px">L<i>....</i></div>
<div class="l" style="left:1079.1px;top:757.0px">L<i>....</i></div>
<div class="l" style="left:1102.8px;top:757.0px">L<i>....</i></div>
<div class="l" style="left:1126.4px;top:757.0px">L<i>....</i></div>
<div class="f" style="left:652.5px;top:772.9px;width:21.4px;height:46.5px;"></div>
<div class="a" style="left:668.0px;top:820.6px;width:4px;height:2px;border-radius:1px;background:#f2a818"></div>
<div class="f" style="left:676.1px;top:772.9px;width:21.4px;height:48.9px;"></div>
<div class="a" style="left:691.6px;top:823.0px;width:4px;height:2px;border-radius:1px;background:#f2a818"></div>
<div class="f" style="left:699.8px;top:772.9px;width:21.4px;height:48.9px;"></div>
<div class="a" style="left:715.3px;top:823.0px;width:4px;height:2px;border-radius:1px;background:#f2a818"></div>
<div class="f" style="left:723.4px;top:772.9px;width:21.4px;height:48.9px;"></div>
<div class="a" style="left:738.9px;top:823.0px;width:4px;height:2px;border-radius:1px;background:#f2a818"></div>
<div class="f" style="left:747.0px;top:772.9px;width:21.4px;height:48.9px;"></div>
<div class="a" style="left:756.5px;top:823.0px;width:10px;height:2px;border-radius:1px;background:linear-gradient(90deg,#cfcfcf 0 55%,#f2a818 55% 100%)"></div>
<div class="f" style="left:770.6px;top:772.9px;width:21.4px;height:48.9px;"></div>
<div class="a" style="left:780.1px;top:823.0px;width:10px;height:2px;border-radius:1px;background:linear-gradient(90deg,#cfcfcf 0 55%,#f2a818 55% 100%)"></div>
<div class="f" style="left:794.3px;top:772.9px;width:21.4px;height:48.9px;"></div>
<div class="a" style="left:803.8px;top:823.0px;width:10px;height:2px;border-radius:1px;background:linear-gradient(90deg,#cfcfcf 0 55%,#f2a818 55% 100%)"></div>
<div class="f" style="left:817.9px;top:772.9px;width:21.4px;height:67.8px;"></div>
<div class="a" style="left:827.4px;top:841.9px;width:10px;height:2px;border-radius:1px;background:linear-gradient(90deg,#cfcfcf 0 55%,#f2a818 55% 100%)"></div>
<div class="f" style="left:841.5px;top:772.9px;width:21.4px;height:67.8px;"></div>
<div class="a" style="left:851.0px;top:841.9px;width:10px;height:2px;border-radius:1px;background:linear-gradient(90deg,#cfcfcf 0 55%,#f2a818 55% 100%)"></div>
<div class="f" style="left:865.2px;top:772.9px;width:21.4px;height:67.8px;"></div>
<div class="a" style="left:874.7px;top:841.9px;width:10px;height:2px;border-radius:1px;background:linear-gradient(90deg,#cfcfcf 0 55%,#f2a818 55% 100%)"></div>
<div class="f" style="left:888.8px;top:772.9px;width:21.4px;height:85.0px;"></div>
<div class="a" style="left:898.3px;top:859.1px;width:10px;height:2px;border-radius:1px;background:linear-gradient(90deg,#cfcfcf 0 55%,#f2a818 55% 100%)"></div>
<div class="f" style="left:912.4px;top:772.9px;width:21.4px;height:96.4px;"></div>
<div class="a" style="left:921.9px;top:870.5px;width:10px;height:2px;border-radius:1px;background:linear-gradient(90deg,#cfcfcf 0 55%,#f2a818 55% 100%)"></div>
<div class="f" style="left:936.1px;top:772.9px;width:21.4px;height:96.4px;"></div>
<div class="a" style="left:945.6px;top:870.5px;width:10px;height:2px;border-radius:1px;background:linear-gradient(90deg,#cfcfcf 0 55%,#f2a818 55% 100%)"></div>
<div class="f" style="left:959.7px;top:772.9px;width:21.4px;height:96.4px;"></div>
<div class="a" style="left:969.2px;top:870.5px;width:10px;height:2px;border-radius:1px;background:linear-gradient(90deg,#cfcfcf 0 55%,#f2a818 55% 100%)"></div>
<div class="f" style="left:983.3px;top:772.9px;width:21.4px;height:96.4px;"></div>
<div class="a" style="left:992.8px;top:870.5px;width:10px;height:2px;border-radius:1px;background:linear-gradient(90deg,#cfcfcf 0 55%,#f2a818 55% 100%)"></div>
<div class="f dn" style="left:1007.0px;top:772.9px;width:21.4px;height:81.6px;"></div>
<div class="a" style="left:1022.5px;top:855.7px;width:4px;height:2px;border-radius:1px;background:#f2a818"></div>
<div class="f dn" style="left:1030.6px;top:772.9px;width:21.4px;height:81.6px;"></div>
<div class="a" style="left:1046.1px;top:855.7px;width:4px;height:2px;border-radius:1px;background:#f2a818"></div>
<div class="f dn" style="left:1054.2px;top:772.9px;width:21.4px;height:81.6px;"></div>
<div class="a" style="left:1069.7px;top:855.7px;width:4px;height:2px;border-radius:1px;background:#f2a818"></div>
<div class="f dn" style="left:1077.8px;top:772.9px;width:21.4px;height:81.6px;"></div>
<div class="a" style="left:1093.3px;top:855.7px;width:4px;height:2px;border-radius:1px;background:#f2a818"></div>
<div class="f" style="left:1101.5px;top:772.9px;width:21.4px;height:46.5px;"></div>
<div class="a" style="left:1117.0px;top:820.6px;width:4px;height:2px;border-radius:1px;background:#f2a818"></div>
<div class="a" style="left:1125.1px;top:772.9px;width:21.4px;height:46.5px;background:linear-gradient(180deg,#fcfcfc 0 50%,#e6e6e6 50% 100%)"></div>
<div class="a" style="left:1134.1px;top:776px;width:3px;height:3px;border-radius:2px;background:#f2a818"></div>
<div class="l" style="left:1494.5px;top:174.0px">F<i>....</i></div>
<div class="f" style="left:1493.6px;top:190.0px;width:22.0px;height:48.0px;"></div>
<div class="a" style="left:1495.5px;top:211px;width:6px;height:2px;background:#4aa8e8"></div>
<div class="a" style="left:1509.500px;top:235px;width:4px;height:1.600px;background:#4aa8e8"></div>
<svg class="a" style="left:0;top:0;z-index:4" width="1677" height="937" viewBox="0 0 1677 937"><path d="M801 100C742 104 692 120 686.6 160.5M681.4 154.7L686.6 161.0L691.8 154.7M586 320C590 272 648 238 700 224S738 214 748 212M695 222.8C715 218 730 216 750 211M709.2 227.3C725 222 735 220 752 214M617 345C625 430 760 505 932 517.8M619.5 345C628 428 770 503 955.600 517.8M618 346C626 432 757 508 919.800 522M671 95.8C661 93.500 653 87 659.500 84.200C664 82.500 670 82.200 675 81.900M670.4 77.6L675.6 81.9L670.4 86.2M695.0 222.8C706.6 221.4 710.5 217.9 710.5 208.8M705.2 215.1L710.5 208.8L715.7 215.1M709.2 227.3C727.9 225.5 734.1 220.8 734.1 208.8M728.9 215.1L734.1 208.8L739.3 215.1M812.2 248.6C824.5 244.6 828.6 234.7 828.6 208.8M823.4 215.1L828.6 208.8L833.8 215.1M832.6 253.0C847.3 248.6 852.2 237.5 852.2 208.8M847.0 215.1L852.2 208.8L857.5 215.1M860.8 253.6C872.1 249.1 875.9 237.9 875.9 208.8M870.6 215.1L875.9 208.8L881.1 215.1M883.3 239.6C895.5 236.5 899.5 228.8 899.5 208.8M894.3 215.1L899.5 208.8L904.7 215.1M906.9 242.1C919.1 238.8 923.1 230.4 923.1 208.8M917.9 215.1L923.1 208.8L928.4 215.1M956.5 262.3C966.9 256.9 970.4 243.6 970.4 208.8M965.2 215.1L970.4 208.8L975.6 215.1M1019.4 234.6C1035.8 232.0 1041.3 225.6 1041.3 208.8M1036.1 215.1L1041.3 208.8L1046.5 215.1M1066.8 235.0C1083.1 232.4 1088.5 225.8 1088.5 208.8M1083.3 215.1L1088.5 208.8L1093.8 215.1M1121.8 221.2C1132.3 220.0 1135.8 216.9 1135.8 208.8M1130.6 215.1L1135.8 208.8L1141.0 215.1M1145.7 229.3C1156.0 227.2 1159.4 222.1 1159.4 208.8M1154.2 215.1L1159.4 208.8L1164.7 215.1M799.8 215.1L805.0 208.8L810.2 215.1M1167.8 207.3C1167.8 224.7 1160.0 224.7 1160.0 242.0M1154.8 235.7L1160.0 242.0L1165.2 235.7M1167.8 247.6C1179.2 243.7 1183.1 234.0 1183.1 208.8M1177.8 215.1L1183.1 208.8L1188.3 215.1M1177.5 268.1C1199.4 262.2 1206.7 247.3 1206.7 208.8M1201.5 215.1L1206.7 208.8L1211.9 215.1M1201.1 279.5C1223.0 272.4 1230.3 254.8 1230.3 208.8M1225.1 215.1L1230.3 208.8L1235.5 215.1M1239.5 206.9C1236 196 1222 192 1226 187C1229 184 1238 185 1243 184.9M1237.5 179.7L1243.8 184.9L1237.5 190.1M1246.3 241.4C1269.8 238.1 1277.6 230.0 1277.6 208.8M1272.4 215.1L1277.6 208.8L1282.8 215.1M1309.5 255.9C1321.0 251.2 1324.8 239.4 1324.8 208.8M1319.6 215.1L1324.8 208.8L1330.1 215.1M1334.9 262.3C1343 250 1348 236 1348 220M671.8 380.3C683.1 379.1 686.8 376.0 686.8 367.9M681.6 374.2L686.8 367.9L692.1 374.2M695.6 380.3C706.7 379.1 710.5 376.0 710.5 367.9M705.2 374.2L710.5 367.9L715.7 374.2M718.5 384.0C730.2 382.4 734.1 378.4 734.1 367.9M728.9 374.2L734.1 367.9L739.3 374.2M733.0 388.2C751.5 386.2 757.7 381.1 757.7 367.9M752.5 374.2L757.7 367.9L762.9 374.2M767.0 396.4C777.8 393.5 781.4 386.4 781.4 367.9M776.1 374.2L781.4 367.9L786.6 374.2M789.4 377.8C801.1 376.8 805.0 374.3 805.0 367.9M799.8 374.2L805.0 367.9L810.2 374.2M813.3 380.8C824.8 379.5 828.6 376.3 828.6 367.9M823.4 374.2L828.6 367.9L833.8 374.2M923.3 379.3C940.9 378.2 946.8 375.3 946.8 367.9M941.5 374.2L946.8 367.9L952.0 374.2M1004.0 387.2C1014.2 385.3 1017.7 380.4 1017.7 367.9M1012.4 374.2L1017.7 367.9L1022.9 374.2M1027.2 402.4C1037.8 398.9 1041.3 390.3 1041.3 367.9M1036.1 374.2L1041.3 367.9L1046.5 374.2M917.9 374.2L923.1 367.9L928.4 374.2M957 359.1C953 351 940 350 943 346.500C946 343.800 954 344.300 959 344.1M953.2 338.9L959.5 344.1L953.2 349.3M1049.6 367.3C1049.6 385.6 1043.0 385.6 1043.0 404.0M1037.8 397.7L1043.0 404.0L1048.2 397.7M1049.6 367.3C1049.6 396.6 1047.0 396.6 1047.0 426.0M1041.8 419.7L1047.0 426.0L1052.2 419.7M1072.8 367.3C1072.8 395.6 1064.0 395.6 1064.0 424.0M1058.8 417.7L1064.0 424.0L1069.2 417.7M1072.8 367.3C1072.8 399.6 1068.5 399.6 1068.5 432.0M1063.3 425.7L1068.5 432.0L1073.7 425.7M1072.8 367.3C1072.8 387.6 1060.0 387.6 1060.0 408.0M1054.8 401.7L1060.0 408.0L1065.2 401.7M1096.0 367.3C1096.0 398.6 1088.0 398.6 1088.0 430.0M1082.8 423.7L1088.0 430.0L1093.2 423.7M1096.0 367.3C1096.0 401.6 1092.0 401.6 1092.0 436.0M1086.8 429.7L1092.0 436.0L1097.2 429.7M1096.0 367.3C1096.0 389.6 1084.0 389.6 1084.0 412.0M1078.8 405.7L1084.0 412.0L1089.2 405.7M1049.6 407.6C1061.9 403.6 1066.0 393.7 1066.0 367.9M1060.8 374.2L1066.0 367.9L1071.2 374.2M1059.3 427.4C1082.3 421.4 1090.0 406.6 1090.0 367.9M1084.8 374.2L1090.0 367.9L1095.2 374.2M1083.2 439.0C1105.5 431.9 1113.0 414.1 1113.0 367.9M1107.8 374.2L1113.0 367.9L1118.2 374.2M1059.3 427.4C1065.8 421.6 1068.0 407.3 1068.0 369.9M1062.8 376.2L1068.0 369.9L1073.2 376.2M1083.2 439.0C1091.3 432.1 1094.0 414.8 1094.0 369.9M1088.8 376.2L1094.0 369.9L1099.2 376.2M1036.1 374.2L1041.3 367.9L1046.5 374.2M1059.7 374.2L1064.9 367.9L1070.1 374.2M1083.3 374.2L1088.5 367.9L1093.8 374.2M1107.0 374.2L1112.2 367.9L1117.4 374.2M1121.3 366.6C1118 356 1104 352 1108 347C1111 344 1120 344.300 1126 344.1M1120.5 338.9L1126.8 344.1L1120.5 349.3M1135.0 390.8C1154.7 388.5 1161.3 382.8 1161.3 367.9M1156.1 374.2L1161.3 367.9L1166.6 374.2M1160.0 392.3C1178.7 389.9 1185.0 383.8 1185.0 367.9M1179.7 374.2L1185.0 367.9L1190.2 374.2M1217.1 401.0C1228.4 397.7 1232.2 389.4 1232.2 367.9M1227.0 374.2L1232.2 367.9L1237.4 374.2M1242.2 410.2C1252.5 406.5 1256.0 397.4 1256.0 373.5M1250.8 379.8L1256.0 373.5L1261.2 379.8M661.4 523C656 514 654 503 663 502.500L675 502.5M669.6 497.3L675.9 502.5L669.6 507.7M705.3 497.0L698.3 502.8L705.3 508.6M684.8 523.0C688.8 513.0 714.0 510.0 720.0 503.0M695.6 527.5C699.6 517.5 714.0 510.0 720.0 503.0M707.2 523.0C711.2 513.0 714.0 510.0 720.0 503.0M715.8 508.3L721.0 502.0L726.2 508.3M719.2 531.2C724 524 732 520 744 517.5M738.7 512.3L745.0 517.5L738.7 522.7M730.4 523C736 521 740 519 744 517.5M762.8 535.7C756 532 750 524 752 518M801.7 523.0C765.4 520.0 739.5 503.0 698.3 502.8M825.3 523.0C780.7 520.0 748.9 503.0 698.3 502.8M849.2 523.0C796.3 520.0 758.5 503.0 698.3 502.8M872.8 523.0C811.6 520.0 767.9 503.0 698.3 502.8M896.3 523.0C826.9 520.0 777.3 503.0 698.3 502.8M919.8 523.0C842.2 520.0 786.7 503.0 698.3 502.8M932.2 517.8C850.2 514.8 791.7 503.0 698.3 502.8M943.4 524.5C857.5 521.5 796.2 503.0 698.3 502.8M955.6 517.8C865.4 514.8 801.0 503.0 698.3 502.8M813.6 549.9C825.1 547.7 829.0 542.3 829.0 528.2M823.8 534.5L829.0 528.2L834.2 534.5M837.3 553.3C848.8 550.8 852.6 544.5 852.6 528.2M847.4 534.5L852.6 528.2L857.8 534.5M862.2 559.6C872.9 556.5 876.4 548.6 876.4 528.2M871.2 534.5L876.4 528.2L881.6 534.5M884.7 555.4C896.4 552.7 900.3 545.9 900.3 528.2M895.1 534.5L900.3 528.2L905.5 534.5M907.5 561.1C919.9 557.8 924.0 549.6 924.0 528.2M918.8 534.5L924.0 528.2L929.2 534.5M929.9 565.3C943.0 561.6 947.4 552.3 947.4 528.2M942.2 534.5L947.4 528.2L952.6 534.5M956.8 571.6C967.1 567.1 970.6 555.9 970.6 526.6M965.4 532.9L970.6 526.6L975.8 532.9M1027.7 556.3C1037.9 553.4 1041.3 546.1 1041.3 527.2M1036.1 533.5L1041.3 527.2L1046.5 533.5M978.8 546.9C990 549 996 548 1002.3 546.9M1002.3 546.9C1014.4 544.9 1018.4 539.8 1018.4 526.6M1013.2 532.9L1018.4 526.6L1023.6 532.9M661.0 614.3C654.0 618.3 657.0 621.8 676.3 621.8M670.0 616.6L676.3 621.8L670.0 627.0M682.0 621.8L700.0 621.8M693.7 616.6L700.0 621.8L693.7 627.0M705.6 621.8L723.6 621.8M717.3 616.6L723.6 621.8L717.3 627.0M732.9 623.8C725.9 627.8 728.9 621.8 747.1 621.8M740.8 616.6L747.1 621.8L740.8 627.0M752.9 621.8L770.9 621.8M764.6 616.6L770.9 621.8L764.6 627.0M789.9 636.0C773.9 630.0 771.9 622.1 794.6 621.1M788.3 615.9L794.6 621.1L788.3 626.3M813.9 639.4C797.9 633.4 795.9 622.1 818.4 621.1M812.1 615.9L818.4 621.1L812.1 626.3M837.3 642.5C821.3 636.5 819.3 622.1 842.1 621.1M835.8 615.9L842.1 621.1L835.8 626.3M861.1 645.5C845.1 639.5 843.1 622.1 865.8 621.1M859.5 615.9L865.8 621.1L859.5 626.3M1075.0 639.8C1059.0 633.8 1057.0 621.4 1078.4 620.4M1072.1 615.2L1078.4 620.4L1072.1 625.6M931.9 656.0C943.1 655.0 946.8 652.3 946.8 645.5M941.6 651.8L946.8 645.5L952.0 651.8M978.0 656.0C990.2 655.0 994.3 652.3 994.3 645.5M989.1 651.8L994.3 645.5L999.5 651.8M1001.0 655.3C1013.2 654.3 1017.3 651.9 1017.3 645.5M1012.1 651.8L1017.3 645.5L1022.5 651.8M1051.0 673.0C1061.9 670.2 1065.5 663.4 1065.5 645.5M1060.3 651.8L1065.5 645.5L1070.7 651.8M659.7 717L675.7 717M669.4 711.8L675.7 717.0L669.4 722.2M683.5 717L699.5 717M693.2 711.8L699.5 717.0L693.2 722.2M720.3 735.8C704.3 729.8 702.3 718.0 723.3 717M717.0 711.8L723.3 717.0L717.0 722.2M731.0 717L747.0 717M740.7 711.8L747.0 717.0L740.7 722.2M767.5 735.8C751.5 729.8 749.5 718.0 770.8 717M764.5 711.8L770.8 717.0L764.5 722.2M846.7 717L862.7 717M856.4 711.8L862.7 717.0L856.4 722.2M870.5 717L886.5 717M880.2 711.8L886.5 717.0L880.2 722.2M907.3 735.8C891.3 729.8 889.3 718.0 910.3 717M904.0 711.8L910.3 717.0L904.0 722.2M918.0 717L934.0 717M927.7 711.8L934.0 717.0L927.7 722.2M954.5 735.8C938.5 729.8 936.5 718.0 957.8 717M951.5 711.8L957.8 717.0L951.5 722.2M776.8 714L788 714M787.7 711.8L794.0 717.0L787.7 722.2M658.4 795.8L675.4 795.8M669.1 790.6L675.4 795.8L669.1 801.0M682.7 795.8L699.7 795.8M693.4 790.6L699.7 795.8L693.4 801.0M705.5 795.8L722.5 795.8M716.2 790.6L722.5 795.8L716.2 801.0M729.1 795.8L746.1 795.8M739.8 790.6L746.1 795.8L739.8 801.0M766.2 810.6C750.2 804.6 748.2 796.8 770.4 795.8M764.1 790.6L770.4 795.8L764.1 801.0M789.6 813.8C773.6 807.8 771.6 796.8 794.0 795.8M787.7 790.6L794.0 795.8L787.7 801.0M811.3 824.6C823.8 824.1 828.0 823.0 828.0 820.0M822.8 826.3L828.0 820.0L833.2 826.3M837.3 828.4C848.0 827.6 851.6 825.5 851.6 820.0M846.4 826.3L851.6 820.0L856.8 826.3M860.6 831.9C872.0 830.7 875.8 827.7 875.8 820.0M870.6 826.3L875.8 820.0L881.0 826.3M882.1 843.0C895.3 840.7 899.7 835.0 899.7 820.0M894.5 826.3L899.7 820.0L904.9 826.3M899.4 843.2C917.3 840.9 923.3 835.1 923.3 820.0M918.1 826.3L923.3 820.0L928.5 826.3M931.6 845.7C942.6 843.1 946.2 836.7 946.2 820.0M941.0 826.3L946.2 820.0L951.4 826.3M945.5 853.0C964.0 849.7 970.2 841.5 970.2 820.0M965.0 826.3L970.2 820.0L975.4 826.3M978.8 860.6C990.2 856.5 994.0 846.4 994.0 820.0M988.8 826.3L994.0 820.0L999.2 826.3M1003.8 871.4C1012 860 1017 840 1019 818M1019 818L1097.8 818M1005.5 795.8L1029.5 795.8M1010.2 791.4L1005.0 795.8L1010.2 800.1M1024.8 791.4L1030.0 795.8L1024.8 800.1M1019 818C1010 808 1008 800 1012 796M1019 818C1028 808 1029 800 1024 796M1019 818L1019 800M1035 840.9C1050 842 1062 832 1071 818M1059 852C1080 850 1092 836 1097.8 818M1059 852C1062 840 1068 828 1071 818M1035 840.9C1042 834 1047 826 1049.5 818M1084 795.8L1124 795.8M1118.2 790.6L1124.5 795.8L1118.2 801.0M1106.2 791.4L1101.0 795.8L1106.2 800.1M1097.8 818C1084 812 1080 800 1086 796" fill="none" stroke="#a6d3f8" stroke-width="1.9" stroke-linecap="round" stroke-linejoin="round"/></svg><div class="n" style="left:665.8px;top:90.6px"></div><div class="n" style="left:689.8px;top:217.6px"></div><div class="n" style="left:704.0px;top:222.1px"></div><div class="n" style="left:735.8px;top:229.1px"></div><div class="n" style="left:807.0px;top:243.4px"></div><div class="n" style="left:827.4px;top:247.8px"></div><div class="n" style="left:855.6px;top:248.4px"></div><div class="n" style="left:878.1px;top:234.4px"></div><div class="n" style="left:901.7px;top:236.9px"></div><div class="n" style="left:951.3px;top:257.1px"></div><div class="n" style="left:1014.2px;top:229.4px"></div><div class="n" style="left:1061.6px;top:229.8px"></div><div class="n" style="left:1116.6px;top:216.0px"></div><div class="n" style="left:1140.5px;top:224.1px"></div><div class="n" style="left:1162.6px;top:202.1px"></div><div class="n" style="left:1162.6px;top:242.4px"></div><div class="n" style="left:1172.3px;top:262.9px"></div><div class="n" style="left:1195.9px;top:274.3px"></div><div class="n" style="left:1234.3px;top:201.7px"></div><div class="n" style="left:1241.1px;top:236.2px"></div><div class="n" style="left:1282.9px;top:179.7px"></div><div class="n" style="left:1304.3px;top:250.7px"></div><div class="n" style="left:1329.7px;top:257.1px"></div><div class="n" style="left:762.8px;top:179.8px"></div><div class="n" style="left:785.8px;top:179.8px"></div><div class="n" style="left:1046.6px;top:179.7px"></div><div class="n" style="left:1093.7px;top:179.7px"></div><div class="n" style="left:666.6px;top:375.1px"></div><div class="n" style="left:690.4px;top:375.1px"></div><div class="n" style="left:713.3px;top:378.8px"></div><div class="n" style="left:727.8px;top:383.0px"></div><div class="n" style="left:761.8px;top:391.2px"></div><div class="n" style="left:784.2px;top:372.6px"></div><div class="n" style="left:808.1px;top:375.6px"></div><div class="n" style="left:918.1px;top:374.1px"></div><div class="n" style="left:998.8px;top:382.0px"></div><div class="n" style="left:1022.0px;top:397.2px"></div><div class="n" style="left:829.1px;top:377.8px"></div><div class="n" style="left:881.1px;top:338.9px"></div><div class="n" style="left:903.9px;top:365.1px"></div><div class="n" style="left:951.8px;top:353.9px"></div><div class="n" style="left:975.7px;top:338.9px"></div><div class="n" style="left:1044.4px;top:362.1px"></div><div class="n" style="left:1067.6px;top:362.1px"></div><div class="n" style="left:1090.8px;top:362.1px"></div><div class="n" style="left:1044.4px;top:402.4px"></div><div class="n" style="left:1054.1px;top:422.2px"></div><div class="n" style="left:1078.0px;top:433.8px"></div><div class="n" style="left:1116.1px;top:361.4px"></div><div class="n" style="left:1129.8px;top:385.6px"></div><div class="n" style="left:1154.8px;top:387.1px"></div><div class="n" style="left:1190.3px;top:338.9px"></div><div class="n" style="left:1211.9px;top:395.8px"></div><div class="n" style="left:1237.0px;top:405.0px"></div><div class="n" style="left:656.2px;top:517.8px"></div><div class="n" style="left:679.6px;top:517.8px"></div><div class="n" style="left:690.4px;top:522.3px"></div><div class="n" style="left:702.0px;top:517.8px"></div><div class="n" style="left:714.0px;top:526.0px"></div><div class="n" style="left:725.2px;top:517.8px"></div><div class="n" style="left:727.8px;top:529.8px"></div><div class="n" style="left:757.6px;top:530.5px"></div><div class="n" style="left:796.5px;top:517.8px"></div><div class="n" style="left:820.1px;top:517.8px"></div><div class="n" style="left:844.0px;top:517.8px"></div><div class="n" style="left:867.6px;top:517.8px"></div><div class="n" style="left:891.1px;top:517.8px"></div><div class="n" style="left:914.6px;top:517.8px"></div><div class="n" style="left:927.0px;top:512.6px"></div><div class="n" style="left:938.2px;top:519.3px"></div><div class="n" style="left:950.4px;top:512.6px"></div><div class="n" style="left:808.4px;top:544.7px"></div><div class="n" style="left:832.1px;top:548.1px"></div><div class="n" style="left:857.0px;top:554.4px"></div><div class="n" style="left:879.5px;top:550.2px"></div><div class="n" style="left:902.3px;top:555.9px"></div><div class="n" style="left:924.7px;top:560.1px"></div><div class="n" style="left:951.6px;top:566.4px"></div><div class="n" style="left:1022.5px;top:551.1px"></div><div class="n" style="left:973.6px;top:541.7px"></div><div class="n" style="left:997.1px;top:541.7px"></div><div class="n" style="left:655.8px;top:609.1px"></div><div class="n" style="left:690.4px;top:611.8px"></div><div class="n" style="left:714.1px;top:615.2px"></div><div class="n" style="left:727.7px;top:618.6px"></div><div class="n" style="left:757.5px;top:618.6px"></div><div class="n" style="left:784.7px;top:630.8px"></div><div class="n" style="left:808.7px;top:634.2px"></div><div class="n" style="left:832.1px;top:637.3px"></div><div class="n" style="left:855.9px;top:640.3px"></div><div class="n" style="left:1069.8px;top:634.6px"></div><div class="n" style="left:926.7px;top:650.8px"></div><div class="n" style="left:972.8px;top:650.8px"></div><div class="n" style="left:995.8px;top:650.1px"></div><div class="n" style="left:1045.8px;top:667.8px"></div><div class="n" style="left:666.5px;top:705.5px"></div><div class="n" style="left:690.7px;top:708.8px"></div><div class="n" style="left:715.1px;top:730.6px"></div><div class="n" style="left:737.5px;top:719.3px"></div><div class="n" style="left:762.3px;top:730.6px"></div><div class="n" style="left:853.5px;top:705.5px"></div><div class="n" style="left:877.7px;top:708.8px"></div><div class="n" style="left:902.1px;top:730.6px"></div><div class="n" style="left:924.5px;top:719.3px"></div><div class="n" style="left:949.3px;top:730.6px"></div><div class="n" style="left:786.4px;top:708.8px"></div><div class="n" style="left:901.4px;top:719.9px"></div><div class="n" style="left:924.6px;top:719.9px"></div><div class="n" style="left:965.8px;top:708.8px"></div><div class="n" style="left:973.8px;top:708.8px"></div><div class="n" style="left:655.9px;top:783.9px"></div><div class="n" style="left:713.6px;top:789.9px"></div><div class="n" style="left:728.0px;top:793.4px"></div><div class="n" style="left:761.0px;top:805.4px"></div><div class="n" style="left:784.4px;top:808.6px"></div><div class="n" style="left:806.1px;top:819.4px"></div><div class="n" style="left:832.1px;top:823.2px"></div><div class="n" style="left:855.4px;top:826.7px"></div><div class="n" style="left:876.9px;top:837.8px"></div><div class="n" style="left:894.2px;top:838.0px"></div><div class="n" style="left:926.4px;top:840.5px"></div><div class="n" style="left:940.3px;top:847.8px"></div><div class="n" style="left:973.6px;top:855.4px"></div><div class="n" style="left:998.6px;top:866.2px"></div><div class="n" style="left:1013.8px;top:812.8px"></div><div class="n" style="left:1021.5px;top:819.8px"></div><div class="n" style="left:1044.3px;top:812.8px"></div><div class="n" style="left:1065.8px;top:812.8px"></div><div class="n" style="left:1092.6px;top:812.8px"></div><div class="n" style="left:1029.8px;top:835.7px"></div><div class="n" style="left:1053.8px;top:846.8px"></div><div class="n" style="left:1108.2px;top:800.0px"></div><div class="n" style="left:1117.2px;top:800.0px"></div>
<div class="fl" style="left:530.0px;top:161.8px;width:122.7px"></div><div class="a" style="z-index:6;left:0;top:0"><div class="t" style="left:537.9px;top:166.8px;height:15px;line-height:15px;font-size:11.5px;color:#15283a;-webkit-text-stroke:0.22px #15283a;letter-spacing:-0.317px;-webkit-text-stroke:0.5px #15283a;">Mobile RGA Se…</div></div><svg class="a" style="z-index:6;left:633.4px;top:167.0px" width="14" height="14" viewBox="0 0 14 14"><rect x="1.600" y="1.600" width="10.800" height="10.600" rx="1" fill="none" stroke="#1b3550" stroke-width="1.15"/><path d="M1.600 3.900H12.400" stroke="#1b3550" stroke-width="1.5"/><path d="M5.600 6.300 L8.900 8.200 L5.600 10.100 Z" fill="none" stroke="#1b3550" stroke-width="1" stroke-linejoin="round"/></svg>
<div class="fl" style="left:530.0px;top:320.8px;width:122.7px"></div><div class="a" style="z-index:6;left:0;top:0"><div class="t" style="left:537.9px;top:325.8px;height:15px;line-height:15px;font-size:11.5px;color:#15283a;-webkit-text-stroke:0.22px #15283a;letter-spacing:-0.317px;-webkit-text-stroke:0.5px #15283a;">Mobile RGA Se…</div></div><svg class="a" style="z-index:6;left:633.4px;top:326.0px" width="14" height="14" viewBox="0 0 14 14"><rect x="1.600" y="1.600" width="10.800" height="10.600" rx="1" fill="none" stroke="#1b3550" stroke-width="1.15"/><path d="M1.600 3.900H12.400" stroke="#1b3550" stroke-width="1.5"/><path d="M5.600 6.300 L8.900 8.200 L5.600 10.100 Z" fill="none" stroke="#1b3550" stroke-width="1" stroke-linejoin="round"/></svg>
<div class="fl" style="left:554.4px;top:693.6px;width:98.3px"></div><div class="a" style="z-index:6;left:0;top:0"><div class="t" style="left:562.3px;top:698.6px;height:15px;line-height:15px;font-size:11.5px;color:#15283a;-webkit-text-stroke:0.22px #15283a;letter-spacing:-0.029px;-webkit-text-stroke:0.5px #15283a;">Just an LCF</div></div><svg class="a" style="z-index:6;left:633.4px;top:698.8px" width="14" height="14" viewBox="0 0 14 14"><rect x="1.600" y="1.600" width="10.800" height="10.600" rx="1" fill="none" stroke="#1b3550" stroke-width="1.15"/><path d="M1.600 3.900H12.400" stroke="#1b3550" stroke-width="1.5"/><path d="M5.600 6.300 L8.900 8.200 L5.600 10.100 Z" fill="none" stroke="#1b3550" stroke-width="1" stroke-linejoin="round"/></svg>
<div class="fl" style="left:529.3px;top:772.6px;width:123.4px"></div><div class="a" style="z-index:6;left:0;top:0"><div class="t" style="left:537.0px;top:777.6px;height:15px;line-height:15px;font-size:11.5px;color:#15283a;-webkit-text-stroke:0.22px #15283a;letter-spacing:-0.142px;-webkit-text-stroke:0.5px #15283a;">LCF and Agree…</div></div><svg class="a" style="z-index:6;left:633.4px;top:777.8px" width="14" height="14" viewBox="0 0 14 14"><rect x="1.600" y="1.600" width="10.800" height="10.600" rx="1" fill="none" stroke="#1b3550" stroke-width="1.15"/><path d="M1.600 3.900H12.400" stroke="#1b3550" stroke-width="1.5"/><path d="M5.600 6.300 L8.900 8.200 L5.600 10.100 Z" fill="none" stroke="#1b3550" stroke-width="1" stroke-linejoin="round"/></svg>
<div class="big" style="left:684.5px;top:57.0px;width:63.0px;height:63.0px"></div><div class="a" style="z-index:9;left:0;top:0"><svg class="a" style="left:708.0px;top:77.5px;border-radius:50%;overflow:hidden" width="23.0" height="23.0" viewBox="0 0 24 24"><circle cx="12" cy="12" r="12" fill="#262626"/><path d="M15 1.500A11 11 0 0 1 15 22.500A14 14 0 0 0 15 1.500Z" fill="#3c3c3c"/><ellipse cx="13" cy="11" rx="7.500" ry="9" fill="#141414"/></svg></div><div class="a" style="z-index:9;left:0;top:0;"><svg class="a" style="left:699.5px;top:76.5px;border-radius:50%;overflow:hidden" width="24.0" height="24.0" viewBox="0 0 24 24"><circle cx="12" cy="12" r="12" fill="#2c2c2c"/><path d="M2.600 14C1.500 6 6 1.200 12 1.600C18 1.200 21.500 6 20.600 12C21.500 16 20 19 21.500 21L12 25L3.500 21C4.500 18 3 16.500 2.600 14Z" fill="#060606"/><path d="M6.900 12.500C6.700 8.800 9.400 7.900 12.400 8.100C15.700 7.900 18.100 9.200 18 12.800C18 17.200 16.200 21 13.400 24.500L10.800 24.500C8.400 21.200 7 17.200 6.900 12.500Z" fill="url(#fg)"/><path d="M7.200 12.800L11.400 12.500L13 12.700L17.800 12.300L17.800 14L13.300 14.300L11.500 14.100L7.300 14.500Z" fill="rgba(40,40,40,.5)"/><path d="M10.800 19.200L14.600 19" stroke="rgba(70,70,70,.5)" stroke-width=".7"/><path d="M12.300 14.500L12 17.300L13.200 17.400" stroke="rgba(90,90,90,.45)" stroke-width=".6" fill="none"/><path d="M0 24.500L2 21L7.500 20.500L9.800 24.500Z M24 24.500L22 20.500L16.500 21L14.200 24.500Z" fill="#080808"/></svg></div>
<div class="big" style="left:799.5px;top:83.5px;width:63.0px;height:63.0px"></div><div class="a" style="z-index:9;left:0;top:0"><svg class="a" style="left:823.0px;top:104.0px;border-radius:50%;overflow:hidden" width="23.0" height="23.0" viewBox="0 0 24 24"><circle cx="12" cy="12" r="12" fill="#262626"/><path d="M15 1.500A11 11 0 0 1 15 22.500A14 14 0 0 0 15 1.500Z" fill="#3c3c3c"/><ellipse cx="13" cy="11" rx="7.500" ry="9" fill="#141414"/></svg></div><div class="a" style="z-index:9;left:0;top:0;"><svg class="a" style="left:814.5px;top:103.0px;border-radius:50%;overflow:hidden" width="24.0" height="24.0" viewBox="0 0 24 24"><circle cx="12" cy="12" r="12" fill="#2c2c2c"/><path d="M2.600 14C1.500 6 6 1.200 12 1.600C18 1.200 21.500 6 20.600 12C21.500 16 20 19 21.500 21L12 25L3.500 21C4.500 18 3 16.500 2.600 14Z" fill="#060606"/><path d="M6.900 12.500C6.700 8.800 9.400 7.900 12.400 8.100C15.700 7.900 18.100 9.200 18 12.800C18 17.200 16.200 21 13.400 24.500L10.800 24.500C8.400 21.200 7 17.200 6.900 12.500Z" fill="url(#fg)"/><path d="M7.200 12.800L11.400 12.500L13 12.700L17.800 12.300L17.800 14L13.300 14.300L11.500 14.100L7.300 14.500Z" fill="rgba(40,40,40,.5)"/><path d="M10.800 19.200L14.600 19" stroke="rgba(70,70,70,.5)" stroke-width=".7"/><path d="M12.300 14.500L12 17.300L13.200 17.400" stroke="rgba(90,90,90,.45)" stroke-width=".6" fill="none"/><path d="M0 24.500L2 21L7.500 20.500L9.800 24.500Z M24 24.500L22 20.500L16.500 21L14.200 24.500Z" fill="#080808"/></svg></div>
<div class="big" style="left:741.5px;top:195.5px;width:63.0px;height:63.0px"></div><div class="a" style="z-index:9;left:0;top:0"><svg class="a" style="left:765.0px;top:216.0px;border-radius:50%;overflow:hidden" width="23.0" height="23.0" viewBox="0 0 24 24"><circle cx="12" cy="12" r="12" fill="#262626"/><path d="M15 1.500A11 11 0 0 1 15 22.500A14 14 0 0 0 15 1.500Z" fill="#3c3c3c"/><ellipse cx="13" cy="11" rx="7.500" ry="9" fill="#141414"/></svg></div><div class="a" style="z-index:9;left:0;top:0;"><svg class="a" style="left:756.5px;top:215.0px;border-radius:50%;overflow:hidden" width="24.0" height="24.0" viewBox="0 0 24 24"><circle cx="12" cy="12" r="12" fill="#2c2c2c"/><path d="M2.600 14C1.500 6 6 1.200 12 1.600C18 1.200 21.500 6 20.600 12C21.500 16 20 19 21.500 21L12 25L3.500 21C4.500 18 3 16.500 2.600 14Z" fill="#060606"/><path d="M6.900 12.500C6.700 8.800 9.400 7.900 12.400 8.100C15.700 7.900 18.100 9.200 18 12.800C18 17.200 16.200 21 13.400 24.500L10.800 24.500C8.400 21.200 7 17.200 6.900 12.500Z" fill="url(#fg)"/><path d="M7.200 12.800L11.400 12.500L13 12.700L17.800 12.300L17.800 14L13.300 14.300L11.500 14.100L7.300 14.500Z" fill="rgba(40,40,40,.5)"/><path d="M10.800 19.200L14.600 19" stroke="rgba(70,70,70,.5)" stroke-width=".7"/><path d="M12.300 14.500L12 17.300L13.200 17.400" stroke="rgba(90,90,90,.45)" stroke-width=".6" fill="none"/><path d="M0 24.500L2 21L7.500 20.500L9.800 24.500Z M24 24.500L22 20.500L16.500 21L14.200 24.500Z" fill="#080808"/></svg></div>
<div class="big" style="left:1315.5px;top:158.5px;width:63.0px;height:63.0px"></div><div class="a" style="z-index:9;left:0;top:0"><svg class="a" style="left:1339.0px;top:179.0px;border-radius:50%;overflow:hidden" width="23.0" height="23.0" viewBox="0 0 24 24"><circle cx="12" cy="12" r="12" fill="#262626"/><path d="M15 1.500A11 11 0 0 1 15 22.500A14 14 0 0 0 15 1.500Z" fill="#3c3c3c"/><ellipse cx="13" cy="11" rx="7.500" ry="9" fill="#141414"/></svg></div><div class="a" style="z-index:9;left:0;top:0;"><svg class="a" style="left:1330.5px;top:178.0px;border-radius:50%;overflow:hidden" width="24.0" height="24.0" viewBox="0 0 24 24"><circle cx="12" cy="12" r="12" fill="#2c2c2c"/><path d="M2.600 14C1.500 6 6 1.200 12 1.600C18 1.200 21.500 6 20.600 12C21.500 16 20 19 21.500 21L12 25L3.500 21C4.500 18 3 16.500 2.600 14Z" fill="#060606"/><path d="M6.900 12.500C6.700 8.800 9.400 7.900 12.400 8.100C15.700 7.900 18.100 9.200 18 12.800C18 17.200 16.200 21 13.400 24.500L10.800 24.500C8.400 21.200 7 17.200 6.900 12.500Z" fill="url(#fg)"/><path d="M7.200 12.800L11.400 12.500L13 12.700L17.800 12.300L17.800 14L13.300 14.300L11.500 14.100L7.300 14.500Z" fill="rgba(40,40,40,.5)"/><path d="M10.800 19.200L14.600 19" stroke="rgba(70,70,70,.5)" stroke-width=".7"/><path d="M12.300 14.500L12 17.300L13.200 17.400" stroke="rgba(90,90,90,.45)" stroke-width=".6" fill="none"/><path d="M0 24.500L2 21L7.500 20.500L9.800 24.500Z M24 24.500L22 20.500L16.500 21L14.200 24.500Z" fill="#080808"/></svg></div>
<div class="big" style="left:834.9px;top:351.1px;width:63.0px;height:63.0px"></div><div class="a" style="z-index:9;left:0;top:0"><svg class="a" style="left:858.4px;top:371.6px;border-radius:50%;overflow:hidden" width="23.0" height="23.0" viewBox="0 0 24 24"><circle cx="12" cy="12" r="12" fill="#262626"/><path d="M15 1.500A11 11 0 0 1 15 22.500A14 14 0 0 0 15 1.500Z" fill="#3c3c3c"/><ellipse cx="13" cy="11" rx="7.500" ry="9" fill="#141414"/></svg></div><div class="a" style="z-index:9;left:0;top:0;"><svg class="a" style="left:849.9px;top:370.6px;border-radius:50%;overflow:hidden" width="24.0" height="24.0" viewBox="0 0 24 24"><circle cx="12" cy="12" r="12" fill="#2c2c2c"/><path d="M2.600 14C1.500 6 6 1.200 12 1.600C18 1.200 21.500 6 20.600 12C21.500 16 20 19 21.500 21L12 25L3.500 21C4.500 18 3 16.500 2.600 14Z" fill="#060606"/><path d="M6.900 12.500C6.700 8.800 9.400 7.900 12.400 8.100C15.700 7.900 18.100 9.200 18 12.800C18 17.200 16.200 21 13.400 24.500L10.800 24.500C8.400 21.200 7 17.200 6.900 12.500Z" fill="url(#fg)"/><path d="M7.200 12.800L11.400 12.500L13 12.700L17.800 12.300L17.800 14L13.300 14.300L11.500 14.100L7.300 14.500Z" fill="rgba(40,40,40,.5)"/><path d="M10.800 19.200L14.600 19" stroke="rgba(70,70,70,.5)" stroke-width=".7"/><path d="M12.300 14.500L12 17.300L13.200 17.400" stroke="rgba(90,90,90,.45)" stroke-width=".6" fill="none"/><path d="M0 24.500L2 21L7.500 20.500L9.800 24.500Z M24 24.500L22 20.500L16.500 21L14.200 24.500Z" fill="#080808"/></svg></div>
<div class="big" style="left:986.0px;top:442.5px;width:63.0px;height:63.0px"></div><div class="a" style="z-index:9;left:0;top:0"><svg class="a" style="left:1009.5px;top:463.0px;border-radius:50%;overflow:hidden" width="23.0" height="23.0" viewBox="0 0 24 24"><circle cx="12" cy="12" r="12" fill="#262626"/><path d="M15 1.500A11 11 0 0 1 15 22.500A14 14 0 0 0 15 1.500Z" fill="#3c3c3c"/><ellipse cx="13" cy="11" rx="7.500" ry="9" fill="#141414"/></svg></div><div class="a" style="z-index:9;left:0;top:0;"><svg class="a" style="left:1001.0px;top:462.0px;border-radius:50%;overflow:hidden" width="24.0" height="24.0" viewBox="0 0 24 24"><circle cx="12" cy="12" r="12" fill="#2c2c2c"/><path d="M2.600 14C1.500 6 6 1.200 12 1.600C18 1.200 21.500 6 20.600 12C21.500 16 20 19 21.500 21L12 25L3.500 21C4.500 18 3 16.500 2.600 14Z" fill="#060606"/><path d="M6.900 12.500C6.700 8.800 9.400 7.900 12.400 8.100C15.700 7.900 18.100 9.200 18 12.800C18 17.200 16.200 21 13.400 24.500L10.800 24.500C8.400 21.200 7 17.200 6.900 12.500Z" fill="url(#fg)"/><path d="M7.200 12.800L11.400 12.500L13 12.700L17.800 12.300L17.800 14L13.300 14.300L11.500 14.100L7.300 14.500Z" fill="rgba(40,40,40,.5)"/><path d="M10.800 19.200L14.600 19" stroke="rgba(70,70,70,.5)" stroke-width=".7"/><path d="M12.300 14.500L12 17.300L13.200 17.400" stroke="rgba(90,90,90,.45)" stroke-width=".6" fill="none"/><path d="M0 24.500L2 21L7.500 20.500L9.800 24.500Z M24 24.500L22 20.500L16.500 21L14.200 24.500Z" fill="#080808"/></svg></div>
<div class="pin" style="left:656.0px;top:337.5px;width:32.0px;height:32.0px"></div><div class="a" style="z-index:9;left:0;top:0"><svg class="a" style="left:659.0px;top:340.5px;border-radius:50%;overflow:hidden" width="26.0" height="26.0" viewBox="0 0 24 24"><circle cx="12" cy="12" r="12" fill="#1c1c1c"/><path d="M2.600 14C1.500 6 6 1.200 12 1.600C18 1.200 21.500 6 20.600 12C21.500 16 20 19 21.500 21L12 25L3.500 21C4.500 18 3 16.500 2.600 14Z" fill="#060606"/><path d="M6.900 12.500C6.700 8.800 9.400 7.900 12.400 8.100C15.700 7.900 18.100 9.200 18 12.800C18 17.200 16.200 21 13.400 24.500L10.800 24.500C8.400 21.200 7 17.200 6.900 12.500Z" fill="url(#fg)"/><path d="M7.200 12.800L11.400 12.500L13 12.700L17.800 12.300L17.800 14L13.300 14.300L11.500 14.100L7.300 14.500Z" fill="rgba(40,40,40,.5)"/><path d="M10.800 19.200L14.600 19" stroke="rgba(70,70,70,.5)" stroke-width=".7"/><path d="M12.300 14.500L12 17.300L13.200 17.400" stroke="rgba(90,90,90,.45)" stroke-width=".6" fill="none"/><path d="M0 24.500L2 21L7.500 20.500L9.800 24.500Z M24 24.500L22 20.500L16.500 21L14.200 24.500Z" fill="#080808"/></svg></div>
<div class="pin" style="left:1024.8px;top:614.5px;width:31.0px;height:31.0px"></div><div class="a" style="z-index:9;left:0;top:0"><svg class="a" style="left:1027.8px;top:617.5px;border-radius:50%;overflow:hidden" width="25.0" height="25.0" viewBox="0 0 24 24"><circle cx="12" cy="12" r="12" fill="#1c1c1c"/><path d="M2.600 14C1.500 6 6 1.200 12 1.600C18 1.200 21.500 6 20.600 12C21.500 16 20 19 21.500 21L12 25L3.500 21C4.500 18 3 16.500 2.600 14Z" fill="#060606"/><path d="M6.900 12.500C6.700 8.800 9.400 7.900 12.400 8.100C15.700 7.900 18.100 9.200 18 12.800C18 17.200 16.200 21 13.400 24.500L10.800 24.500C8.400 21.200 7 17.200 6.900 12.500Z" fill="url(#fg)"/><path d="M7.200 12.800L11.400 12.500L13 12.700L17.800 12.300L17.800 14L13.300 14.300L11.500 14.100L7.300 14.500Z" fill="rgba(40,40,40,.5)"/><path d="M10.800 19.200L14.600 19" stroke="rgba(70,70,70,.5)" stroke-width=".7"/><path d="M12.300 14.500L12 17.300L13.200 17.400" stroke="rgba(90,90,90,.45)" stroke-width=".6" fill="none"/><path d="M0 24.500L2 21L7.500 20.500L9.800 24.500Z M24 24.500L22 20.500L16.500 21L14.200 24.500Z" fill="#080808"/></svg></div>
<div class="pin" style="left:685.2px;top:761.5px;width:27.6px;height:27.6px"></div><div class="a" style="z-index:9;left:0;top:0"><svg class="a" style="left:688.2px;top:764.5px;border-radius:50%;overflow:hidden" width="21.6" height="21.6" viewBox="0 0 24 24"><circle cx="12" cy="12" r="12" fill="#1c1c1c"/><path d="M2.600 14C1.500 6 6 1.200 12 1.600C18 1.200 21.500 6 20.600 12C21.500 16 20 19 21.500 21L12 25L3.500 21C4.500 18 3 16.500 2.600 14Z" fill="#060606"/><path d="M6.900 12.500C6.700 8.800 9.400 7.900 12.400 8.100C15.700 7.900 18.100 9.200 18 12.800C18 17.200 16.200 21 13.400 24.500L10.800 24.500C8.400 21.200 7 17.200 6.900 12.500Z" fill="url(#fg)"/><path d="M7.200 12.800L11.400 12.500L13 12.700L17.800 12.300L17.800 14L13.300 14.300L11.500 14.100L7.300 14.500Z" fill="rgba(40,40,40,.5)"/><path d="M10.800 19.200L14.600 19" stroke="rgba(70,70,70,.5)" stroke-width=".7"/><path d="M12.300 14.500L12 17.300L13.200 17.400" stroke="rgba(90,90,90,.45)" stroke-width=".6" fill="none"/><path d="M0 24.500L2 21L7.500 20.500L9.800 24.500Z M24 24.500L22 20.500L16.500 21L14.200 24.500Z" fill="#080808"/></svg></div>
<div class="pin" style="left:754.4px;top:493.500px;width:31px;height:31px"></div>
<div class="a" style="z-index:9;left:757.900px;top:497px;width:24px;height:24px;border-radius:50%;background:#0c5c4f"></div>
<div class="a" style="z-index:9;left:0;top:0"><div class="t" style="left:764.8px;top:500.8px;height:17px;line-height:17px;font-size:13px;color:#c2ddd5;font-weight:bold;">C</div></div>
</div>
<div class="a" style="left:1667.5px;top:22px;width:6px;height:906px;border:1px solid #9a9a9a;border-radius:3px;box-sizing:border-box;background:#4a4a4a"></div>
<div class="a" style="left:319px;top:0;width:1358px;height:19px;background:#2c2c2c"></div>
<div class="a" style="left:319px;top:19px;width:21px;height:918px;background:#2c2c2c"></div>
<div class="t" style="left:370.0px;top:0px;height:13px;line-height:13px;font-size:10px;color:#a6a6a6;width:40px;text-align:center;letter-spacing:0.2px">1000</div>
<div class="a" style="left:389.5px;top:14px;width:1px;height:5px;background:#8a8a8a"></div>
<div class="t" style="left:420.3px;top:0px;height:13px;line-height:13px;font-size:10px;color:#a6a6a6;width:40px;text-align:center;letter-spacing:0.2px">2000</div>
<div class="a" style="left:439.8px;top:14px;width:1px;height:5px;background:#8a8a8a"></div>
<div class="t" style="left:470.5px;top:0px;height:13px;line-height:13px;font-size:10px;color:#a6a6a6;width:40px;text-align:center;letter-spacing:0.2px">3000</div>
<div class="a" style="left:490.0px;top:14px;width:1px;height:5px;background:#8a8a8a"></div>
<div class="t" style="left:520.8px;top:0px;height:13px;line-height:13px;font-size:10px;color:#a6a6a6;width:40px;text-align:center;letter-spacing:0.2px">4000</div>
<div class="a" style="left:540.3px;top:14px;width:1px;height:5px;background:#8a8a8a"></div>
<div class="t" style="left:571.1px;top:0px;height:13px;line-height:13px;font-size:10px;color:#a6a6a6;width:40px;text-align:center;letter-spacing:0.2px">5000</div>
<div class="a" style="left:590.6px;top:14px;width:1px;height:5px;background:#8a8a8a"></div>
<div class="t" style="left:621.4px;top:0px;height:13px;line-height:13px;font-size:10px;color:#a6a6a6;width:40px;text-align:center;letter-spacing:0.2px">6000</div>
<div class="a" style="left:640.9px;top:14px;width:1px;height:5px;background:#8a8a8a"></div>
<div class="t" style="left:671.7px;top:0px;height:13px;line-height:13px;font-size:10px;color:#a6a6a6;width:40px;text-align:center;letter-spacing:0.2px">7000</div>
<div class="a" style="left:691.2px;top:14px;width:1px;height:5px;background:#8a8a8a"></div>
<div class="t" style="left:721.9px;top:0px;height:13px;line-height:13px;font-size:10px;color:#a6a6a6;width:40px;text-align:center;letter-spacing:0.2px">8000</div>
<div class="a" style="left:741.4px;top:14px;width:1px;height:5px;background:#8a8a8a"></div>
<div class="t" style="left:772.2px;top:0px;height:13px;line-height:13px;font-size:10px;color:#a6a6a6;width:40px;text-align:center;letter-spacing:0.2px">9000</div>
<div class="a" style="left:791.7px;top:14px;width:1px;height:5px;background:#8a8a8a"></div>
<div class="t" style="left:822.5px;top:0px;height:13px;line-height:13px;font-size:10px;color:#a6a6a6;width:40px;text-align:center;letter-spacing:0.2px">10000</div>
<div class="a" style="left:842.0px;top:14px;width:1px;height:5px;background:#8a8a8a"></div>
<div class="t" style="left:872.8px;top:0px;height:13px;line-height:13px;font-size:10px;color:#a6a6a6;width:40px;text-align:center;letter-spacing:0.2px">11000</div>
<div class="a" style="left:892.3px;top:14px;width:1px;height:5px;background:#8a8a8a"></div>
<div class="t" style="left:923.1px;top:0px;height:13px;line-height:13px;font-size:10px;color:#a6a6a6;width:40px;text-align:center;letter-spacing:0.2px">12000</div>
<div class="a" style="left:942.6px;top:14px;width:1px;height:5px;background:#8a8a8a"></div>
<div class="t" style="left:973.3px;top:0px;height:13px;line-height:13px;font-size:10px;color:#a6a6a6;width:40px;text-align:center;letter-spacing:0.2px">13000</div>
<div class="a" style="left:992.8px;top:14px;width:1px;height:5px;background:#8a8a8a"></div>
<div class="t" style="left:1023.6px;top:0px;height:13px;line-height:13px;font-size:10px;color:#a6a6a6;width:40px;text-align:center;letter-spacing:0.2px">14000</div>
<div class="a" style="left:1043.1px;top:14px;width:1px;height:5px;background:#8a8a8a"></div>
<div class="t" style="left:1073.9px;top:0px;height:13px;line-height:13px;font-size:10px;color:#a6a6a6;width:40px;text-align:center;letter-spacing:0.2px">15000</div>
<div class="a" style="left:1093.4px;top:14px;width:1px;height:5px;background:#8a8a8a"></div>
<div class="t" style="left:1124.2px;top:0px;height:13px;line-height:13px;font-size:10px;color:#a6a6a6;width:40px;text-align:center;letter-spacing:0.2px">16000</div>
<div class="a" style="left:1143.7px;top:14px;width:1px;height:5px;background:#8a8a8a"></div>
<div class="t" style="left:1174.5px;top:0px;height:13px;line-height:13px;font-size:10px;color:#a6a6a6;width:40px;text-align:center;letter-spacing:0.2px">17000</div>
<div class="a" style="left:1194.0px;top:14px;width:1px;height:5px;background:#8a8a8a"></div>
<div class="t" style="left:1224.7px;top:0px;height:13px;line-height:13px;font-size:10px;color:#a6a6a6;width:40px;text-align:center;letter-spacing:0.2px">18000</div>
<div class="a" style="left:1244.2px;top:14px;width:1px;height:5px;background:#8a8a8a"></div>
<div class="t" style="left:1275.0px;top:0px;height:13px;line-height:13px;font-size:10px;color:#a6a6a6;width:40px;text-align:center;letter-spacing:0.2px">19000</div>
<div class="a" style="left:1294.5px;top:14px;width:1px;height:5px;background:#8a8a8a"></div>
<div class="t" style="left:1325.3px;top:0px;height:13px;line-height:13px;font-size:10px;color:#a6a6a6;width:40px;text-align:center;letter-spacing:0.2px">20000</div>
<div class="a" style="left:1344.8px;top:14px;width:1px;height:5px;background:#8a8a8a"></div>
<div class="t" style="left:1375.6px;top:0px;height:13px;line-height:13px;font-size:10px;color:#a6a6a6;width:40px;text-align:center;letter-spacing:0.2px">21000</div>
<div class="a" style="left:1395.1px;top:14px;width:1px;height:5px;background:#8a8a8a"></div>
<div class="t" style="left:1425.9px;top:0px;height:13px;line-height:13px;font-size:10px;color:#a6a6a6;width:40px;text-align:center;letter-spacing:0.2px">22000</div>
<div class="a" style="left:1445.4px;top:14px;width:1px;height:5px;background:#8a8a8a"></div>
<div class="t" style="left:1476.1px;top:0px;height:13px;line-height:13px;font-size:10px;color:#a6a6a6;width:40px;text-align:center;letter-spacing:0.2px">23000</div>
<div class="a" style="left:1495.6px;top:14px;width:1px;height:5px;background:#8a8a8a"></div>
<div class="t" style="left:1526.4px;top:0px;height:13px;line-height:13px;font-size:10px;color:#a6a6a6;width:40px;text-align:center;letter-spacing:0.2px">24000</div>
<div class="a" style="left:1545.9px;top:14px;width:1px;height:5px;background:#8a8a8a"></div>
<div class="t" style="left:1576.7px;top:0px;height:13px;line-height:13px;font-size:10px;color:#a6a6a6;width:40px;text-align:center;letter-spacing:0.2px">25000</div>
<div class="a" style="left:1596.2px;top:14px;width:1px;height:5px;background:#8a8a8a"></div>
<div class="t" style="left:1627.0px;top:0px;height:13px;line-height:13px;font-size:10px;color:#a6a6a6;width:40px;text-align:center;letter-spacing:0.2px">26000</div>
<div class="a" style="left:1646.5px;top:14px;width:1px;height:5px;background:#8a8a8a"></div>
<div class="t" style="left:306.2px;top:27.6px;width:40px;height:13px;line-height:13px;font-size:10px;color:#5a5a5a;text-align:center;transform:rotate(-90deg);transform-origin:center center;letter-spacing:0.2px">-4000</div>
<div class="a" style="left:335px;top:33.6px;width:4px;height:1px;background:#5a5a5a"></div>
<div class="t" style="left:306.2px;top:77.8px;width:40px;height:13px;line-height:13px;font-size:10px;color:#a0a0a0;text-align:center;transform:rotate(-90deg);transform-origin:center center;letter-spacing:0.2px">-3000</div>
<div class="a" style="left:335px;top:83.8px;width:4px;height:1px;background:#8a8a8a"></div>
<div class="t" style="left:306.2px;top:128.1px;width:40px;height:13px;line-height:13px;font-size:10px;color:#a0a0a0;text-align:center;transform:rotate(-90deg);transform-origin:center center;letter-spacing:0.2px">-2000</div>
<div class="a" style="left:335px;top:134.1px;width:4px;height:1px;background:#8a8a8a"></div>
<div class="t" style="left:306.2px;top:178.3px;width:40px;height:13px;line-height:13px;font-size:10px;color:#a0a0a0;text-align:center;transform:rotate(-90deg);transform-origin:center center;letter-spacing:0.2px">-1000</div>
<div class="a" style="left:335px;top:184.3px;width:4px;height:1px;background:#8a8a8a"></div>
<div class="t" style="left:306.2px;top:228.5px;width:40px;height:13px;line-height:13px;font-size:10px;color:#a0a0a0;text-align:center;transform:rotate(-90deg);transform-origin:center center;letter-spacing:0.2px">0</div>
<div class="a" style="left:335px;top:234.5px;width:4px;height:1px;background:#8a8a8a"></div>
<div class="t" style="left:306.2px;top:278.7px;width:40px;height:13px;line-height:13px;font-size:10px;color:#a0a0a0;text-align:center;transform:rotate(-90deg);transform-origin:center center;letter-spacing:0.2px">1000</div>
<div class="a" style="left:335px;top:284.7px;width:4px;height:1px;background:#8a8a8a"></div>
<div class="t" style="left:306.2px;top:328.9px;width:40px;height:13px;line-height:13px;font-size:10px;color:#a0a0a0;text-align:center;transform:rotate(-90deg);transform-origin:center center;letter-spacing:0.2px">2000</div>
<div class="a" style="left:335px;top:334.9px;width:4px;height:1px;background:#8a8a8a"></div>
<div class="t" style="left:306.2px;top:379.2px;width:40px;height:13px;line-height:13px;font-size:10px;color:#a0a0a0;text-align:center;transform:rotate(-90deg);transform-origin:center center;letter-spacing:0.2px">3000</div>
<div class="a" style="left:335px;top:385.2px;width:4px;height:1px;background:#8a8a8a"></div>
<div class="t" style="left:306.2px;top:429.4px;width:40px;height:13px;line-height:13px;font-size:10px;color:#a0a0a0;text-align:center;transform:rotate(-90deg);transform-origin:center center;letter-spacing:0.2px">4000</div>
<div class="a" style="left:335px;top:435.4px;width:4px;height:1px;background:#8a8a8a"></div>
<div class="t" style="left:306.2px;top:479.6px;width:40px;height:13px;line-height:13px;font-size:10px;color:#a0a0a0;text-align:center;transform:rotate(-90deg);transform-origin:center center;letter-spacing:0.2px">5000</div>
<div class="a" style="left:335px;top:485.6px;width:4px;height:1px;background:#8a8a8a"></div>
<div class="t" style="left:306.2px;top:529.8px;width:40px;height:13px;line-height:13px;font-size:10px;color:#a0a0a0;text-align:center;transform:rotate(-90deg);transform-origin:center center;letter-spacing:0.2px">6000</div>
<div class="a" style="left:335px;top:535.8px;width:4px;height:1px;background:#8a8a8a"></div>
<div class="t" style="left:306.2px;top:580.0px;width:40px;height:13px;line-height:13px;font-size:10px;color:#a0a0a0;text-align:center;transform:rotate(-90deg);transform-origin:center center;letter-spacing:0.2px">7000</div>
<div class="a" style="left:335px;top:586.0px;width:4px;height:1px;background:#8a8a8a"></div>
<div class="t" style="left:306.2px;top:630.3px;width:40px;height:13px;line-height:13px;font-size:10px;color:#a0a0a0;text-align:center;transform:rotate(-90deg);transform-origin:center center;letter-spacing:0.2px">8000</div>
<div class="a" style="left:335px;top:636.3px;width:4px;height:1px;background:#8a8a8a"></div>
<div class="t" style="left:306.2px;top:680.5px;width:40px;height:13px;line-height:13px;font-size:10px;color:#a0a0a0;text-align:center;transform:rotate(-90deg);transform-origin:center center;letter-spacing:0.2px">9000</div>
<div class="a" style="left:335px;top:686.5px;width:4px;height:1px;background:#8a8a8a"></div>
<div class="t" style="left:306.2px;top:730.7px;width:40px;height:13px;line-height:13px;font-size:10px;color:#a0a0a0;text-align:center;transform:rotate(-90deg);transform-origin:center center;letter-spacing:0.2px">10000</div>
<div class="a" style="left:335px;top:736.7px;width:4px;height:1px;background:#8a8a8a"></div>
<div class="t" style="left:306.2px;top:780.9px;width:40px;height:13px;line-height:13px;font-size:10px;color:#a0a0a0;text-align:center;transform:rotate(-90deg);transform-origin:center center;letter-spacing:0.2px">11000</div>
<div class="a" style="left:335px;top:786.9px;width:4px;height:1px;background:#8a8a8a"></div>
<div class="t" style="left:306.2px;top:831.1px;width:40px;height:13px;line-height:13px;font-size:10px;color:#a0a0a0;text-align:center;transform:rotate(-90deg);transform-origin:center center;letter-spacing:0.2px">12000</div>
<div class="a" style="left:335px;top:837.1px;width:4px;height:1px;background:#8a8a8a"></div>
<div class="t" style="left:306.2px;top:881.4px;width:40px;height:13px;line-height:13px;font-size:10px;color:#a0a0a0;text-align:center;transform:rotate(-90deg);transform-origin:center center;letter-spacing:0.2px">13000</div>
<div class="a" style="left:335px;top:887.4px;width:4px;height:1px;background:#8a8a8a"></div>
<div class="t" style="left:306.2px;top:931.6px;width:40px;height:13px;line-height:13px;font-size:10px;color:#a0a0a0;text-align:center;transform:rotate(-90deg);transform-origin:center center;letter-spacing:0.2px">14000</div>
<div class="a" style="left:335px;top:937.6px;width:4px;height:1px;background:#8a8a8a"></div>
<div class="a" style="left:339px;top:19px;width:1px;height:918px;background:#3a3a3a"></div>
<div class="a" style="left:0;top:0;width:318px;height:937px;background:#2c2c2c"></div>
<div class="a" style="left:318px;top:0;width:1px;height:937px;background:#444"></div>
<svg class="a" style="left:14px;top:12px" width="16" height="22" viewBox="0 0 16 22"><g fill="none" stroke="#fff" stroke-width="1.1">
<path d="M8 3.5H5.3a2.6 2.6 0 0 0 0 5.2H8z"/><path d="M8 3.5h2.7a2.6 2.6 0 0 1 0 5.2H8z"/>
<path d="M8 8.7H5.3a2.6 2.6 0 0 0 0 5.2H8z"/><circle cx="10.7" cy="11.3" r="2.6"/>
<path d="M8 13.9H5.3a2.6 2.6 0 1 0 2.7 2.6z"/></g></svg>
<svg class="a" style="left:32.5px;top:19.0px" width="10" height="8" viewBox="0 0 10 8"><path d="M2.900 2.900 L5 5 L7.100 2.900" fill="none" stroke="#ddd" stroke-width="1.25" stroke-linecap="round" stroke-linejoin="round"/></svg>
<svg class="a" style="left:285px;top:15px" width="18" height="15" viewBox="0 0 18 15"><rect x="1.2" y="1.8" width="15.2" height="11" rx="2.2" fill="none" stroke="#fff" stroke-width="1.1"/><path d="M5.6 1.8v11" stroke="#fff" stroke-width="1.1"/></svg>
<div class="t" style="left:15.0px;top:46.5px;height:17px;line-height:17px;font-size:13px;color:#fff;font-weight:bold;letter-spacing:-0.005px;">Marketing Tools [Landing Pages + Lea...</div>
<svg class="a" style="left:280.0px;top:51.0px" width="10" height="8" viewBox="0 0 10 8"><path d="M2.900 2.900 L5 5 L7.100 2.900" fill="none" stroke="#ddd" stroke-width="1.25" stroke-linecap="round" stroke-linejoin="round"/></svg>
<div class="t" style="left:14.0px;top:69.5px;height:15px;line-height:15px;font-size:11px;color:#c4c4c4;-webkit-text-stroke:0.22px #c4c4c4;letter-spacing:0.425px;">Software Projects</div>
<div class="a" style="left:0;top:97px;width:318px;height:1px;background:#444"></div>
<div class="a" style="left:6px;top:106px;width:35px;height:24px;border-radius:5px;background:#383838"></div>
<div class="t" style="left:14.0px;top:110.5px;height:15px;line-height:15px;font-size:11px;color:#fff;font-weight:bold;letter-spacing:-0.315px;">File</div>
<div class="t" style="left:53.0px;top:110.5px;height:15px;line-height:15px;font-size:11px;color:#b8b8b8;font-weight:bold;letter-spacing:-0.216px;">Assets</div>
<svg class="a" style="left:261px;top:109px" width="18" height="18" viewBox="0 0 18 18"><circle cx="8" cy="8.3" r="5" fill="none" stroke="#fff" stroke-width="1.1"/><path d="M11.7 12l3 3" stroke="#fff" stroke-width="1.1" stroke-linecap="round"/></svg>
<svg class="a" style="left:288px;top:106px" width="22" height="22" viewBox="0 0 22 22"><path d="M3.5 6.3 C5.5 5.3 8 5.4 9.6 6.6 V16.6 C8 15.5 5.5 15.4 3.5 16.3 Z M9.6 6.6 C10.8 5.6 12.6 5.3 14 5.6 M9.6 16.6 C11.3 15.5 13.6 15.4 15.7 16.3 V12" fill="none" stroke="#fff" stroke-width="1.1" stroke-linejoin="round"/><circle cx="16.3" cy="4.2" r="2.2" fill="#0d99ff"/></svg>
<div class="a" style="left:0;top:138px;width:318px;height:1px;background:#444"></div>
<div class="t" style="left:14.0px;top:151.5px;height:15px;line-height:15px;font-size:11px;color:#fff;font-weight:bold;letter-spacing:-0.102px;">Pages</div>
<svg class="a" style="left:290px;top:152px" width="14" height="14" viewBox="0 0 14 14"><path d="M7 1.8v10.4M1.8 7h10.4" stroke="#fff" stroke-width="1"/></svg>
<div class="t" style="left:14.0px;top:187.5px;height:15px;line-height:15px;font-size:11px;color:#f2f2f2;-webkit-text-stroke:0.22px #f2f2f2;letter-spacing:0.293px;">Landing Pages - Mobile 1 Person with Fam Prototypes</div>
<div class="t" style="left:14.0px;top:219.5px;height:15px;line-height:15px;font-size:11px;color:#f2f2f2;-webkit-text-stroke:0.22px #f2f2f2;letter-spacing:0.286px;">Landing Pages - Mobile 1 Person Prototypes</div>
<div class="t" style="left:14.0px;top:283.5px;height:15px;line-height:15px;font-size:11px;color:#f2f2f2;-webkit-text-stroke:0.22px #f2f2f2;letter-spacing:0.282px;">Lead Capture Forms - List and Details</div>
<div class="t" style="left:14.0px;top:315.5px;height:15px;line-height:15px;font-size:11px;color:#f2f2f2;-webkit-text-stroke:0.22px #f2f2f2;letter-spacing:0.254px;">Lead Capture Forms - Form</div>
<div class="t" style="left:14.0px;top:347.5px;height:15px;line-height:15px;font-size:11px;color:#f2f2f2;-webkit-text-stroke:0.22px #f2f2f2;letter-spacing:0.229px;">Lead Capture Forms - Emails</div>
<div class="t" style="left:14.0px;top:379.5px;height:15px;line-height:15px;font-size:11px;color:#f2f2f2;-webkit-text-stroke:0.22px #f2f2f2;letter-spacing:0.334px;">Lead Capture Forms - Front End [Prototypes]</div>
<div class="t" style="left:14.0px;top:443.5px;height:15px;line-height:15px;font-size:11px;color:#f2f2f2;-webkit-text-stroke:0.22px #f2f2f2;letter-spacing:0.295px;">Landing Pages - List and Details</div>
<div class="t" style="left:14.0px;top:475.5px;height:15px;line-height:15px;font-size:11px;color:#f2f2f2;-webkit-text-stroke:0.22px #f2f2f2;letter-spacing:0.251px;">Landing Pages - Form</div>
<div class="t" style="left:14.0px;top:507.5px;height:15px;line-height:15px;font-size:11px;color:#f2f2f2;-webkit-text-stroke:0.22px #f2f2f2;letter-spacing:0.220px;">Landing Pages - Emails</div>
<div class="t" style="left:14.0px;top:603.5px;height:15px;line-height:15px;font-size:11px;color:#f2f2f2;-webkit-text-stroke:0.22px #f2f2f2;letter-spacing:0.246px;">Landing Pages - Front End DESKTOP [Prototypes]</div>
<div class="a" style="left:14px;top:259px;width:288px;height:1px;background:#444"></div>
<div class="a" style="left:14px;top:419px;width:288px;height:1px;background:#444"></div>
<div class="a" style="left:14px;top:547px;width:288px;height:1px;background:#444"></div>
<div class="a" style="left:6px;top:567px;width:304px;height:24px;border-radius:5px;background:#383838"></div>
<div class="t" style="left:14.0px;top:571.5px;height:15px;line-height:15px;font-size:11px;color:#fff;font-weight:bold;letter-spacing:0.032px;">Landing Pages - Front End MOBILE [Prototypes]</div>
<div class="a" style="left:0;top:645px;width:318px;height:1px;background:#444"></div>
<div class="t" style="left:14.0px;top:658.5px;height:15px;line-height:15px;font-size:11px;color:#fff;font-weight:bold;letter-spacing:-0.094px;">Layers</div>
<svg class="a" style="left:15px;top:695px" width="14" height="14" viewBox="0 0 14 14"><rect x="1.6" y="2" width="10.8" height="3.6" rx="1.4" fill="none" stroke="#fff" stroke-width="1"/><rect x="4.2" y="8.4" width="5.6" height="3.4" rx="1.2" fill="none" stroke="#fff" stroke-width="1"/></svg>
<div class="t" style="left:38.0px;top:694.5px;height:15px;line-height:15px;font-size:11px;color:#fff;font-weight:bold;letter-spacing:-0.107px;">MOBILE Closed LP</div>
<div class="a" style="left:141.5px;top:693.5px;width:68.0px;height:17px;border:1px solid #444;border-radius:4px;box-sizing:border-box"></div><div class="t" style="left:145.5px;top:694.5px;height:15px;line-height:15px;font-size:11px;color:#f2f2f2;-webkit-text-stroke:0.22px #f2f2f2;letter-spacing:0.564px;">Light Mode</div>
<svg class="a" style="left:15px;top:727px" width="14" height="14" viewBox="0 0 14 14"><rect x="1.8" y="1.8" width="10.4" height="10.4" rx="1.6" fill="none" stroke="#fff" stroke-width="1"/><path d="M2.2 11.6 L7.2 6.8 L12 11.2" fill="none" stroke="#fff" stroke-width="1"/><circle cx="9.4" cy="4.6" r="0.9" fill="#fff"/></svg>
<div class="t" style="left:38.0px;top:726.5px;height:15px;line-height:15px;font-size:11px;color:#f2f2f2;-webkit-text-stroke:0.22px #f2f2f2;letter-spacing:0.193px;">image 14</div>
<svg class="a" style="left:15px;top:759px" width="14" height="14" viewBox="0 0 14 14"><rect x="1.6" y="2" width="10.8" height="3.6" rx="1.4" fill="none" stroke="#fff" stroke-width="1"/><rect x="4.2" y="8.4" width="5.6" height="3.4" rx="1.2" fill="none" stroke="#fff" stroke-width="1"/></svg>
<div class="t" style="left:38.0px;top:758.5px;height:15px;line-height:15px;font-size:11px;color:#fff;font-weight:bold;letter-spacing:0.004px;">For Webinar</div>
<div class="a" style="left:106.8px;top:757.5px;width:68.5px;height:17px;border:1px solid #444;border-radius:4px;box-sizing:border-box"></div><div class="t" style="left:111.0px;top:758.5px;height:15px;line-height:15px;font-size:11px;color:#f2f2f2;-webkit-text-stroke:0.22px #f2f2f2;letter-spacing:0.620px;">Light Mode</div>
<svg class="a" style="left:15px;top:791px" width="14" height="14" viewBox="0 0 14 14"><rect x="2" y="2" width="10" height="10" fill="none" stroke="#fff" stroke-width="1" stroke-dasharray="1.6 1.2"/></svg>
<div class="t" style="left:38.0px;top:790.5px;height:15px;line-height:15px;font-size:11px;color:#f2f2f2;-webkit-text-stroke:0.22px #f2f2f2;letter-spacing:0.210px;">Group 2</div>
<svg class="a" style="left:15px;top:823px" width="14" height="14" viewBox="0 0 14 14"><rect x="1.6" y="2" width="10.8" height="3.6" rx="1.4" fill="none" stroke="#fff" stroke-width="1"/><rect x="4.2" y="8.4" width="5.6" height="3.4" rx="1.2" fill="none" stroke="#fff" stroke-width="1"/></svg>
<div class="t" style="left:38.0px;top:822.5px;height:15px;line-height:15px;font-size:11px;color:#fff;font-weight:bold;letter-spacing:0.133px;">Roger Gracie - Ticket Inventory</div>
<div class="a" style="left:210.0px;top:821.5px;width:65.0px;height:17px;border:1px solid #444;border-radius:4px;box-sizing:border-box"></div><div class="t" style="left:214.5px;top:822.5px;height:15px;line-height:15px;font-size:11px;color:#f2f2f2;-webkit-text-stroke:0.22px #f2f2f2;letter-spacing:0.364px;">Blue Mode</div>
<svg class="a" style="left:15px;top:855px" width="14" height="14" viewBox="0 0 14 14"><path d="M2.2 4V2.4H11.8V4M7 2.4V11.8M5.2 11.8H8.8" fill="none" stroke="#fff" stroke-width="1"/></svg>
<div class="t" style="left:38.0px;top:854.5px;height:15px;line-height:15px;font-size:11px;color:#f2f2f2;-webkit-text-stroke:0.22px #f2f2f2;letter-spacing:0.464px;">Summary/confirmation step</div>
<svg class="a" style="left:14px;top:886px" width="16" height="16" viewBox="0 0 16 16"><path d="M8 1.6l1.7 1.2 2.1-.1.6 2 1.7 1.2-.7 2 .7 2-1.7 1.2-.6 2-2.1-.1L8 14.4l-1.7-1.2-2.1.1-.6-2-1.7-1.2.7-2-.7-2 1.7-1.200.6-2 2.1.1z" fill="none" stroke="#c4a5f3" stroke-width="1"/><path d="M8.6 4.8L6.4 8.4h3.2L7.4 11.4" fill="none" stroke="#c4a5f3" stroke-width="1"/></svg>
<div class="t" style="left:38.0px;top:886.5px;height:15px;line-height:15px;font-size:11px;color:#c4a5f3;-webkit-text-stroke:0.22px #c4a5f3;letter-spacing:0.347px;width:280.0px;overflow:hidden;">Baymard – Add UX Best Practice Cards To Your Design</div>
<svg class="a" style="left:14px;top:918px" width="16" height="16" viewBox="0 0 16 16"><path d="M8 1.6l1.7 1.2 2.1-.1.6 2 1.7 1.2-.7 2 .7 2-1.7 1.2-.6 2-2.1-.1L8 14.4l-1.7-1.2-2.1.1-.6-2-1.7-1.2.7-2-.7-2 1.7-1.200.6-2 2.1.1z" fill="none" stroke="#c4a5f3" stroke-width="1"/><path d="M8.6 4.8L6.4 8.4h3.2L7.4 11.4" fill="none" stroke="#c4a5f3" stroke-width="1"/></svg>
<div class="t" style="left:38.0px;top:918.5px;height:15px;line-height:15px;font-size:11px;color:#c4a5f3;-webkit-text-stroke:0.22px #c4a5f3;letter-spacing:0.347px;width:280.0px;overflow:hidden;">Baymard – Add UX Best Practice Cards To Your Design</div>
<div class="a" style="left:1677px;top:0;width:240px;height:937px;background:#2c2c2c"></div>
<div class="a" style="left:1677px;top:0;width:1px;height:937px;background:#444"></div>
<svg class="a" style="left:1690.0px;top:12.0px;border-radius:50%;overflow:hidden" width="22.0" height="22.0" viewBox="0 0 24 24"><circle cx="12" cy="12" r="12" fill="#1a1a1a"/><path d="M2.600 14C1.500 6 6 1.200 12 1.600C18 1.200 21.500 6 20.600 12C21.500 16 20 19 21.500 21L12 25L3.500 21C4.500 18 3 16.500 2.600 14Z" fill="#060606"/><path d="M6.900 12.500C6.700 8.800 9.400 7.900 12.400 8.100C15.700 7.900 18.100 9.200 18 12.800C18 17.200 16.200 21 13.400 24.500L10.800 24.500C8.400 21.200 7 17.200 6.900 12.500Z" fill="url(#fg)"/><path d="M7.200 12.800L11.400 12.500L13 12.700L17.800 12.300L17.800 14L13.300 14.300L11.500 14.100L7.300 14.500Z" fill="rgba(40,40,40,.5)"/><path d="M10.800 19.200L14.600 19" stroke="rgba(70,70,70,.5)" stroke-width=".7"/><path d="M12.300 14.500L12 17.300L13.200 17.400" stroke="rgba(90,90,90,.45)" stroke-width=".6" fill="none"/><path d="M0 24.500L2 21L7.500 20.500L9.800 24.500Z M24 24.500L22 20.500L16.500 21L14.200 24.500Z" fill="#080808"/></svg>
<svg class="a" style="left:1717.7px;top:19.0px" width="10" height="8" viewBox="0 0 10 8"><path d="M2.900 2.900 L5 5 L7.100 2.900" fill="none" stroke="#ddd" stroke-width="1.25" stroke-linecap="round" stroke-linejoin="round"/></svg>
<svg class="a" style="left:1810px;top:14px" width="18" height="18" viewBox="0 0 18 18"><path d="M3.6 3.2 Q3.6 2 4.7 2.6 L14.4 8.2 Q15.4 9 14.4 9.8 L4.7 15.4 Q3.6 16 3.6 14.8 Z" fill="none" stroke="#fff" stroke-width="1.1" stroke-linejoin="round"/></svg>
<svg class="a" style="left:1838.0px;top:19.0px" width="10" height="8" viewBox="0 0 10 8"><path d="M2.900 2.900 L5 5 L7.100 2.900" fill="none" stroke="#ddd" stroke-width="1.25" stroke-linecap="round" stroke-linejoin="round"/></svg>
<div class="a" style="left:1855px;top:7px;width:55px;height:32px;border-radius:6px;background:#0d99ff"></div>
<div class="t" style="left:1867.0px;top:15.5px;height:15px;line-height:15px;font-size:11px;color:#fff;font-weight:bold;letter-spacing:0.007px;">Share</div>
<div class="t" style="left:1694.5px;top:51.2px;height:15px;line-height:15px;font-size:11px;color:#b8b8b8;font-weight:bold;letter-spacing:-0.234px;">Design</div>
<div class="a" style="left:1743px;top:47px;width:68.5px;height:24px;border-radius:5px;background:#383838"></div>
<div class="t" style="left:1751.0px;top:51.2px;height:15px;line-height:15px;font-size:11px;color:#fff;font-weight:bold;letter-spacing:0.083px;">Prototype</div>
<div class="t" style="left:1861.4px;top:51.2px;height:15px;line-height:15px;font-size:11px;color:#fff;font-weight:bold;letter-spacing:-0.898px;">5%</div>
<svg class="a" style="left:1892.8px;top:54.7px" width="10" height="8" viewBox="0 0 10 8"><path d="M2.900 2.900 L5 5 L7.100 2.900" fill="none" stroke="#ddd" stroke-width="1.25" stroke-linecap="round" stroke-linejoin="round"/></svg>
<div class="a" style="left:1677px;top:79px;width:240px;height:1px;background:#444"></div>
<div class="t" style="left:1694.0px;top:92.5px;height:15px;line-height:15px;font-size:11px;color:#fff;font-weight:bold;letter-spacing:0.085px;">Prototype settings</div>
<div class="a" style="left:1694.5px;top:124.5px;width:207.5px;height:23px;border:1px solid #444;border-radius:5px;box-sizing:border-box"></div>
<div class="t" style="left:1702.7px;top:128.5px;height:15px;line-height:15px;font-size:11px;color:#f5f5f5;font-weight:bold;letter-spacing:-0.031px;">iPhone 14 Pro Max</div>
<svg class="a" style="left:1882.7px;top:132.0px" width="10" height="8" viewBox="0 0 10 8"><path d="M2.900 2.900 L5 5 L7.100 2.900" fill="none" stroke="#ddd" stroke-width="1.25" stroke-linecap="round" stroke-linejoin="round"/></svg>
<div class="a" style="left:1694.5px;top:156.5px;width:99.5px;height:23px;border:1px solid #444;border-radius:5px;box-sizing:border-box"></div>
<div class="t" style="left:1703.0px;top:160.5px;height:15px;line-height:15px;font-size:11px;color:#f5f5f5;font-weight:bold;letter-spacing:-0.051px;">Space Black</div>
<svg class="a" style="left:1775.0px;top:164.0px" width="10" height="8" viewBox="0 0 10 8"><path d="M2.900 2.900 L5 5 L7.100 2.900" fill="none" stroke="#ddd" stroke-width="1.25" stroke-linecap="round" stroke-linejoin="round"/></svg>
<div class="a" style="left:1802px;top:156.5px;width:100px;height:23px;border-radius:5px;background:#383838"></div>
<div class="a" style="left:1802px;top:156.5px;width:49px;height:23px;border:1px solid #4a4a4a;border-radius:5px;box-sizing:border-box;background:#2c2c2c"></div>
<svg class="a" style="left:1820px;top:159px" width="14" height="18" viewBox="0 0 14 18"><rect x="2.3" y="1.4" width="9.4" height="15.2" rx="2" fill="none" stroke="#fff" stroke-width="1.1"/></svg>
<svg class="a" style="left:1868px;top:161px" width="18" height="14" viewBox="0 0 18 14"><rect x="1.4" y="2.3" width="15.2" height="9.4" rx="2" fill="none" stroke="#ddd" stroke-width="1.1"/></svg>
<div class="a" style="left:1694.5px;top:188.5px;width:207.5px;height:23px;border-radius:5px;background:#383838"></div>
<div class="a" style="left:1699px;top:193px;width:14px;height:14px;border-radius:2px;background:#555"></div>
<div class="t" style="left:1719.4px;top:192.5px;height:15px;line-height:15px;font-size:11px;color:#f5f5f5;font-weight:bold;letter-spacing:0.659px;">555555</div>
<div class="a" style="left:1694px;top:220px;width:208px;height:129.5px;border-radius:5px;background:#555"></div>
<div class="a" style="left:1772.5px;top:231px;width:51px;height:108px;border-radius:8px;background:#1f222a;border:1.2px solid #0a0a0c;box-sizing:border-box"></div>
<div class="a" style="left:1790.7px;top:233.6px;width:14.3px;height:3.6px;border-radius:2px;background:#07070a"></div>
<div class="a" style="left:1677px;top:362px;width:240px;height:1px;background:#444"></div>
<div class="t" style="left:1694.0px;top:375.1px;height:15px;line-height:15px;font-size:11px;color:#fff;font-weight:bold;letter-spacing:-0.291px;">Flows</div>
<div class="t" style="left:1694.0px;top:411.5px;height:15px;line-height:15px;font-size:11px;color:#e6e6e6;-webkit-text-stroke:0.22px #e6e6e6;letter-spacing:0.600px;width:223.0px;overflow:hidden;">Mobile RGA Seminar - Membership Ticket</div>
<div class="t" style="left:1694.0px;top:443.5px;height:15px;line-height:15px;font-size:11px;color:#e6e6e6;-webkit-text-stroke:0.22px #e6e6e6;letter-spacing:0.394px;">Mobile RGA Seminar - Inventory Ticket</div>
<div class="t" style="left:1694.0px;top:475.5px;height:15px;line-height:15px;font-size:11px;color:#e6e6e6;-webkit-text-stroke:0.22px #e6e6e6;letter-spacing:0.220px;">Just an LCF</div>
<div class="t" style="left:1694.0px;top:507.5px;height:15px;line-height:15px;font-size:11px;color:#e6e6e6;-webkit-text-stroke:0.22px #e6e6e6;letter-spacing:0.347px;">LCF and Agreement</div>
<div class="a" style="left:1862px;top:881px;width:32px;height:32px;border-radius:16px;background:#1e1e1e;box-shadow:0 1px 3px rgba(0,0,0,.4)"></div>
<div class="t" style="left:1873.5px;top:887.5px;height:19px;line-height:19px;font-size:15px;color:#e0e0e0;-webkit-text-stroke:0.22px #e0e0e0;">?</div>
<div class="a" style="left:741px;top:879px;width:435.5px;height:47px;border-radius:13px;background:#2c2c2c;box-shadow:0 2px 8px rgba(0,0,0,.35),0 0 1px rgba(0,0,0,.5)"></div>
<div class="a" style="left:747px;top:885.5px;width:32.5px;height:32px;border-radius:5px;background:#0d99ff"></div>
<svg class="a" style="left:751px;top:890px" width="24" height="24" viewBox="0 0 24 24"><path d="M5.2 4.6 L19.2 9.8 L13 12.6 L10.2 18.8 Z" fill="none" stroke="#fff" stroke-width="1.3" stroke-linejoin="round"/></svg>
<svg class="a" style="left:782.0px;top:898.0px" width="10" height="8" viewBox="0 0 10 8"><path d="M2.900 2.900 L5 5 L7.100 2.900" fill="none" stroke="#ddd" stroke-width="1.25" stroke-linecap="round" stroke-linejoin="round"/></svg>
<svg class="a" style="left:807.3px;top:890px" width="24" height="24" viewBox="0 0 24 24"><path d="M8 4v16M16 4v16M4 8h16M4 16h16" stroke="#fff" stroke-width="1.3" fill="none"/></svg>
<svg class="a" style="left:839.5px;top:898.0px" width="10" height="8" viewBox="0 0 10 8"><path d="M2.900 2.900 L5 5 L7.100 2.900" fill="none" stroke="#ddd" stroke-width="1.25" stroke-linecap="round" stroke-linejoin="round"/></svg>
<svg class="a" style="left:864.9px;top:890px" width="24" height="24" viewBox="0 0 24 24"><rect x="4.6" y="4.6" width="14.8" height="14.8" rx="2" stroke="#fff" stroke-width="1.3" fill="none"/></svg>
<svg class="a" style="left:896.0px;top:898.0px" width="10" height="8" viewBox="0 0 10 8"><path d="M2.900 2.900 L5 5 L7.100 2.900" fill="none" stroke="#ddd" stroke-width="1.25" stroke-linecap="round" stroke-linejoin="round"/></svg>
<svg class="a" style="left:922px;top:890px" width="24" height="24" viewBox="0 0 24 24"><path d="M4.2 4.6 L13.6 5.6 Q15 5.8 15.8 7 L20.4 14.6 L15 20.2 L7.2 16 Q6 15.2 5.6 13.8 Z" fill="none" stroke="#fff" stroke-width="1.3" stroke-linejoin="round"/><circle cx="12.6" cy="12.6" r="2.1" fill="none" stroke="#fff" stroke-width="1.3"/><path d="M4.4 4.8 L11 11" stroke="#fff" stroke-width="1.3"/></svg>
<svg class="a" style="left:953.2px;top:898.0px" width="10" height="8" viewBox="0 0 10 8"><path d="M2.900 2.900 L5 5 L7.100 2.900" fill="none" stroke="#ddd" stroke-width="1.25" stroke-linecap="round" stroke-linejoin="round"/></svg>
<svg class="a" style="left:978.9px;top:890px" width="24" height="24" viewBox="0 0 24 24"><path d="M4.8 7.6V5h14.4v2.6M12 5v14M9 19h6" stroke="#fff" stroke-width="1.3" fill="none"/></svg>
<svg class="a" style="left:1018.7px;top:890px" width="24" height="24" viewBox="0 0 24 24"><path d="M12 4.4 a7.8 7.8 0 1 1 0 15.600 H4.600 V12 A7.6 7.6 0 0 1 12 4.400 Z" stroke="#fff" stroke-width="1.3" fill="none" stroke-linejoin="round"/></svg>
<svg class="a" style="left:1050.0px;top:898.0px" width="10" height="8" viewBox="0 0 10 8"><path d="M2.900 2.900 L5 5 L7.100 2.900" fill="none" stroke="#ddd" stroke-width="1.25" stroke-linecap="round" stroke-linejoin="round"/></svg>
<svg class="a" style="left:1075.600px;top:890px" width="24" height="24" viewBox="0 0 24 24"><path d="M10.600 4.600 Q11.600 10.400 17.600 11.600 Q11.600 12.800 10.600 19 Q9.600 12.800 3.600 11.600 Q9.600 10.400 10.600 4.600 Z" stroke="#fff" stroke-width="1.3" fill="none" stroke-linejoin="round"/><circle cx="18.200" cy="5" r="1.6" fill="none" stroke="#fff" stroke-width="1.1"/><path d="M18.400 16v4.400M16.200 18.200h4.400" stroke="#fff" stroke-width="1.1"/></svg>
<div class="a" style="left:1112.5px;top:879px;width:1px;height:47px;background:#3c3c3c"></div>
<div class="a" style="left:1125px;top:890.5px;width:39.5px;height:22.5px;border-radius:6px;background:#383838"></div>
<div class="a" style="left:1125px;top:890.5px;width:23.5px;height:22.5px;border-radius:6px;background:#2c2c2c;border:1px solid #444;box-sizing:border-box"></div>
<svg class="a" style="left:1127px;top:892px" width="20" height="20" viewBox="0 0 20 20"><path d="M6.600 6 L3 10 L6.600 14 M13.400 6 L17 10 L13.400 14 M11.400 4.600 L8.600 15.400" stroke="#fff" stroke-width="1.2" fill="none" stroke-linecap="round" stroke-linejoin="round"/></svg>
</div></body></html>
